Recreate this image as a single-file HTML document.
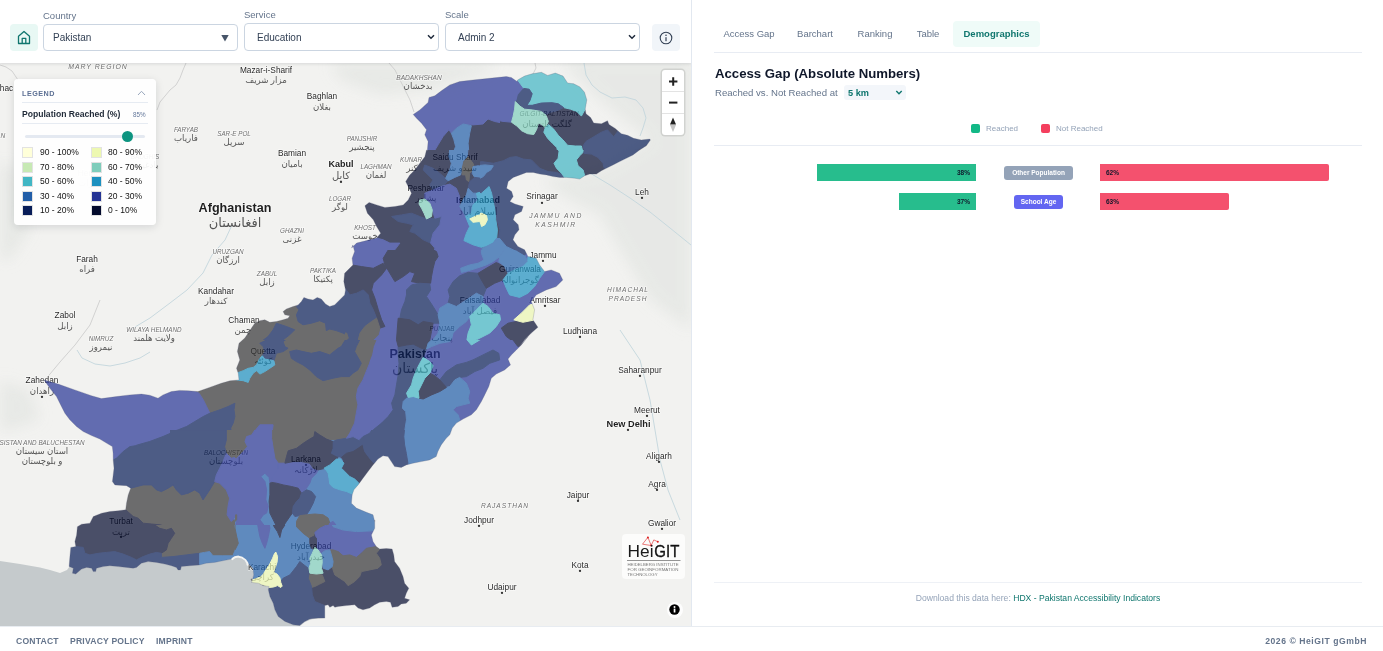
<!DOCTYPE html>
<html lang="en">
<head>
<meta charset="utf-8">
<title>Access Gap – Pakistan</title>
<style>
*{box-sizing:border-box;margin:0;padding:0}
html,body{width:1383px;height:651px;overflow:hidden;background:#fff;font-family:"Liberation Sans","DejaVu Sans",sans-serif;color:#1e293b}
.abs{position:absolute}
#left{position:absolute;left:0;top:0;width:691px;height:626px;overflow:hidden;background:#f1f1ef}
#map{position:absolute;left:0;top:63px;width:691px;height:563px;overflow:hidden;background:#f1f1ef}
#hdr{position:absolute;left:0;top:0;width:691px;height:63px;background:#fff;box-shadow:0 1px 3px rgba(15,23,42,.12);z-index:5}
.lbl{position:absolute;top:10px;font-size:9.5px;color:#64748b;line-height:11px}
.sel{position:absolute;top:24px;height:27px;border:1px solid #cbd5e1;border-radius:4px;background:#fff;font-size:10px;color:#334155;line-height:25px;padding-left:9px}
.sel svg{position:absolute;right:5px;top:8px}
.ibtn{position:absolute;top:24px;width:28px;height:27px;border-radius:4px}
#right{position:absolute;left:691px;top:0;width:692px;height:626px;background:#fff;border-left:1px solid #e2e8f0}
.tab{position:absolute;top:20px;height:26px;line-height:26px;font-size:9.5px;color:#64748b;text-align:center;border-radius:4px}
.hr{position:absolute;height:1px;background:#e8ecf3}
#footer{position:absolute;left:0;top:626px;width:1383px;height:25px;background:#fff;border-top:1px solid #e8ecf1;font-size:8.6px;font-weight:bold;color:#64748b;letter-spacing:.2px}
#footer span{position:absolute;top:9px;line-height:11px;white-space:nowrap}
.bar{position:absolute;height:17px;font-size:6.5px;font-weight:bold;line-height:17px;color:#0f172a}
.pill{position:absolute;height:14px;border-radius:3px;color:#fff;font-size:6.5px;font-weight:bold;line-height:14px;text-align:center;white-space:nowrap}
#legend{position:absolute;left:14px;top:79px;width:142px;height:146px;background:rgba(255,255,255,.93);border-radius:4px;box-shadow:0 2px 8px rgba(15,23,42,.13);z-index:4}
#legend .sw{position:absolute;width:11px;height:11px;border:1px solid #e2e2e2}
#legend .t{position:absolute;font-size:8.5px;color:#111;line-height:11px;white-space:nowrap}
.ml{font-family:"Liberation Sans","DejaVu Sans",sans-serif}
</style>
</head>
<body>
<div id="left">
<div id="map">
<svg class="abs" style="left:0;top:0" width="691" height="563" viewBox="0 0 691 563">
<rect x="0" y="0" width="691" height="563" fill="#f2f2f0"/>
<defs><filter id="bl" x="-20%" y="-20%" width="140%" height="140%"><feGaussianBlur stdDeviation="7"/></filter><filter id="bl2" x="-20%" y="-20%" width="140%" height="140%"><feGaussianBlur stdDeviation="3"/></filter></defs>
<g filter="url(#bl)" fill="#e6e8e5" opacity=".9">
<polygon points="560,-3.0 691,-3.0 691,267.0 650,237.0 620,187.0 600,152.0 570,137.0 540,117.0 600,107.0 650,77.0 600,37.0"/>
<polygon points="330,0.0 500,0.0 480,12.0 430,27.0 380,32.0 340,17.0"/>
<polygon points="0,97.0 20,107.0 30,167.0 10,197.0 0,197.0"/>
<polygon points="0,317.0 30,327.0 40,357.0 10,367.0 0,367.0"/>
</g>
<mask id="seam"><rect x="0" y="0" width="691" height="563" fill="#fff"/><path d="M413.2,51.5 L419.8,46.9 L428.1,39.4 L429.0,34.4 L434.8,32.8 L441.4,27.8 L449.8,21.9 L459.7,18.6 L473.0,17.0 L489.7,15.3 L506.3,13.6 L511.3,14.5 L517.1,18.6 L517.6,17.0 L524.6,13.1 L532.2,10.8 L541.4,9.3 L547.6,12.4 L555.3,10.1 L563.0,13.1 L567.6,20.0 L573.7,20.8 L579.9,23.9 L584.5,29.3 L586.8,36.9 L585.2,46.2 L586.0,50.8 L590.6,54.6 L593.7,60.0 L601.4,60.8 L607.5,57.7 L609.0,61.5 L615.2,65.4 L621.3,70.7 L627.5,72.3 L633.6,75.3 L641.3,76.9 L649.8,76.1 L650.4,77.0 L646.3,82.8 L639.6,87.0 L633.0,91.9 L626.3,95.3 L619.7,98.6 L613.0,101.9 L606.3,105.3 L601.4,107.7 L596.4,111.1 L589.7,111.1 L584.7,112.7 L579.7,116.1 L574.8,115.2 L566.4,114.4 L559.8,114.4 L553.1,113.6 L546.5,111.9 L539.8,111.1 L533.2,109.4 L526.5,109.4 L519.9,111.9 L513.2,114.4 L508.2,118.6 L506.6,125.2 L511.6,128.5 L513.2,133.5 L509.9,138.5 L514.9,141.0 L523.2,143.5 L521.5,148.5 L514.9,151.8 L513.2,156.8 L518.2,161.8 L519.0,166.8 L514.9,171.8 L513.0,176.8 L517.9,183.5 L524.6,186.8 L527.9,193.4 L527.9,193.6 L536.2,195.3 L539.6,201.9 L544.6,208.6 L551.2,206.9 L559.5,210.3 L562.8,216.9 L556.2,223.6 L546.2,226.9 L536.2,231.9 L531.3,238.5 L534.6,246.8 L532.9,256.8 L537.9,264.3 L531.3,270.1 L524.6,276.8 L519.6,283.4 L527.9,273.7 L521.3,282.0 L516.3,287.0 L511.3,291.9 L508.0,296.1 L510.5,301.9 L504.6,306.9 L496.3,311.1 L491.3,315.2 L488.8,323.5 L484.7,331.9 L481.4,338.5 L476.4,346.8 L471.4,351.8 L463.1,356.0 L456.4,360.1 L452.3,365.1 L449.8,371.8 L446.2,375.3 L441.2,381.9 L437.9,388.6 L436.2,393.6 L429.6,396.9 L421.3,398.6 L412.9,400.2 L406.3,401.9 L401.3,404.4 L394.6,403.6 L391.3,398.6 L388.0,393.6 L383.0,392.8 L378.0,396.1 L373.0,401.9 L368.0,408.6 L363.0,415.2 L358.1,421.9 L353.9,426.8 L352.2,431.8 L351.4,440.2 L356.4,445.1 L366.4,449.3 L373.0,451.8 L374.7,458.4 L374.7,457.0 L374.7,465.3 L371.4,472.0 L373.0,478.6 L376.3,483.6 L379.7,486.1 L386.3,485.6 L392.1,486.1 L393.8,491.9 L394.6,498.6 L399.6,505.2 L403.0,513.5 L404.6,520.2 L408.8,525.2 L406.3,530.2 L404.6,535.2 L409.6,536.8 L406.3,540.2 L401.3,541.0 L398.0,543.5 L392.1,544.3 L390.5,539.3 L386.3,538.5 L379.7,539.3 L374.7,541.8 L369.7,545.1 L363.0,546.8 L358.1,545.1 L354.7,541.8 L346.4,542.6 L338.1,543.5 L334.8,544.3 L333.1,542.6 L329.8,544.3 L328.1,541.8 L324.8,542.6 L324.8,555.1 L318.1,555.1 L309.8,556.0 L304.8,558.4 L301.5,560.9 L299.8,562.6 L293.2,561.8 L284.9,558.4 L278.2,553.5 L274.9,546.8 L273.2,540.2 L269.9,533.5 L268.3,526.8 L269.1,523.5 L263.3,522.7 L258.3,520.2 L251.6,519.4 L253.7,511.9 L252.9,505.2 L247.9,500.2 L242.9,496.1 L237.9,493.6 L232.9,494.4 L231.3,496.1 L222.9,497.7 L214.6,499.4 L206.3,500.2 L199.7,501.9 L189.7,502.7 L181.4,503.6 L180.5,506.9 L178.0,506.9 L176.4,504.4 L171.4,502.7 L164.7,501.1 L156.4,499.4 L148.1,498.6 L141.4,500.2 L136.5,504.4 L133.1,505.2 L126.5,504.4 L118.2,503.6 L109.8,502.7 L103.2,503.6 L96.5,505.2 L95.7,508.6 L93.2,508.6 L91.6,505.2 L86.6,504.4 L81.6,506.1 L75.8,511.0 L72.4,510.2 L73.3,505.2 L69.1,503.6 L69.9,493.6 L70.8,484.4 L75.8,483.6 L74.9,478.6 L76.6,472.0 L77.4,463.7 L81.6,461.2 L89.9,460.2 L93.3,453.5 L101.6,450.2 L109.9,448.5 L118.2,447.7 L125.7,446.8 L126.5,440.2 L128.2,431.9 L130.7,425.2 L126.5,422.7 L114.9,421.9 L112.4,418.6 L113.2,411.9 L114.0,405.3 L113.2,397.0 L113.1,390.1 L112.3,383.5 L106.4,380.1 L99.8,376.0 L91.5,372.6 L83.2,368.5 L76.5,363.5 L69.8,356.8 L64.9,350.2 L60.7,341.9 L56.5,333.6 L49.9,325.3 L44.1,316.9 L58.2,321.1 L74.8,326.9 L91.5,332.7 L101.4,335.6 L116.4,333.6 L129.7,331.9 L141.4,331.1 L149.7,332.2 L158.0,335.2 L163.0,331.9 L171.3,328.6 L179.6,327.4 L187.9,327.7 L197.9,328.6 L209.5,324.4 L221.2,320.3 L230.0,317.8 L239.0,316.9 L238.2,310.2 L236.5,305.3 L239.8,296.9 L237.4,288.6 L239.0,280.3 L244.8,275.1 L248.2,270.1 L251.5,265.1 L254.8,260.2 L259.8,257.7 L264.8,256.8 L269.8,259.3 L276.4,258.5 L283.1,256.8 L288.1,255.2 L289.7,252.7 L284.8,251.8 L283.1,248.5 L286.4,246.0 L293.1,243.5 L298.1,241.9 L301.4,238.5 L303.9,234.4 L308.0,236.0 L313.0,236.9 L317.2,234.4 L321.3,236.0 L325.5,241.0 L329.7,243.5 L334.6,241.9 L339.6,236.9 L344.6,231.9 L345.5,226.9 L343.8,218.6 L344.6,210.3 L349.6,205.3 L352.9,201.9 L352.1,195.3 L354.6,188.6 L352.9,182.0 L351.6,185.1 L356.6,180.1 L366.6,177.6 L376.6,175.1 L380.7,170.2 L376.6,163.5 L373.3,156.8 L367.4,150.2 L364.9,142.7 L369.1,139.4 L376.6,141.9 L384.9,144.4 L394.9,143.5 L403.2,141.9 L408.2,136.9 L411.5,130.2 L408.2,123.6 L405.7,118.6 L409.8,111.9 L414.8,107.0 L419.8,100.3 L424.8,93.7 L426.5,87.0 L427.3,87.6 L428.1,78.5 L424.8,71.8 L426.5,66.8 L421.5,60.2 L416.5,55.2Z" fill="#000"/></mask>
<polygon mask="url(#seam)" points="0,498.0 20,501.0 40,504.5 50,507.0 60,510.0 67,507.0 70,503.0 70,492.0 300,492.0 310,537.0 325,555.0 312,556.0 305,559.0 300,563.0 0,563.0" fill="#c5cacc"/>
<g fill="none" stroke="#c9c9c9" stroke-width=".8">
<polyline points="0,2.0 6,4.0 12,8.0 16,14.0 18,17.0"/>
<polyline points="186,0.0 183,7.0 180,15.0 176,22.0 170,27.0 165,33.0 160,39.0 157,47.0"/>
<polyline points="389,0.0 395,7.0 400,17.0 405,27.0 410,37.0 414,49.0"/>
<polyline points="45,317.0 60,299.0 75,282.0 90,262.0 100,237.0"/>
<polyline points="535,0.0 536,5.0 533,11.0"/>
</g>
<g fill="none" stroke="#c3d6dc" stroke-width=".9">
<polyline points="584,0.0 586,12.0 592,22.0 600,29.0 612,35.0 625,34.0 636,37.0 643,45.0 646,55.0 643,65.0 640,73.0"/>
<polyline points="590,110.0 610,122.0 630,135.0 650,149.0 670,165.0 691,182.0"/>
<polyline points="232,162.0 225,177.0 212,192.0 203,210.0 187,227.0 170,240.0 150,255.0 130,267.0"/>
<polyline points="77,287.0 82,295.0 95,301.0 110,303.0 125,300.0 140,295.0 150,289.0"/>
<polyline points="620,267.0 630,282.0 640,297.0 645,317.0 650,337.0 655,367.0 660,397.0 668,427.0 680,457.0"/>
</g>
<g font-family="Liberation Sans, DejaVu Sans, sans-serif" text-anchor="middle">
<text x="98" y="6.299999999999997" font-size="6.9" fill="#6f6f6f" font-style="italic" letter-spacing="1" stroke="#fff" stroke-width="1.6" stroke-opacity=".55" paint-order="stroke" stroke-linejoin="round">MARY REGION</text>
<text x="266" y="10" font-size="8.3" fill="#2a2a2a" stroke="#fff" stroke-width="1.6" stroke-opacity=".55" paint-order="stroke" stroke-linejoin="round">Mazar-i-Sharif</text>
<text x="322" y="36" font-size="8.3" fill="#2a2a2a" stroke="#fff" stroke-width="1.6" stroke-opacity=".55" paint-order="stroke" stroke-linejoin="round">Baghlan</text>
<text x="419" y="16.5" font-size="6.6" fill="#6f6f6f" font-style="italic" stroke="#fff" stroke-width="1.6" stroke-opacity=".55" paint-order="stroke" stroke-linejoin="round">BADAKHSHAN</text>
<text x="186" y="68.5" font-size="6.3" fill="#6f6f6f" font-style="italic" stroke="#fff" stroke-width="1.6" stroke-opacity=".55" paint-order="stroke" stroke-linejoin="round">FARYAB</text>
<text x="234" y="72.5" font-size="6.3" fill="#6f6f6f" font-style="italic" stroke="#fff" stroke-width="1.6" stroke-opacity=".55" paint-order="stroke" stroke-linejoin="round">SAR-E POL</text>
<text x="362" y="77.5" font-size="6.3" fill="#6f6f6f" font-style="italic" stroke="#fff" stroke-width="1.6" stroke-opacity=".55" paint-order="stroke" stroke-linejoin="round">PANJSHIR</text>
<text x="292" y="93" font-size="8.3" fill="#2a2a2a" stroke="#fff" stroke-width="1.6" stroke-opacity=".55" paint-order="stroke" stroke-linejoin="round">Bamian</text>
<text x="341" y="104" font-size="9" fill="#1f1f1f" font-weight="bold" stroke="#fff" stroke-width="1.6" stroke-opacity=".55" paint-order="stroke" stroke-linejoin="round">Kabul</text>
<text x="376" y="105.5" font-size="6.3" fill="#6f6f6f" font-style="italic" stroke="#fff" stroke-width="1.6" stroke-opacity=".55" paint-order="stroke" stroke-linejoin="round">LAGHMAN</text>
<text x="411" y="98.5" font-size="6.3" fill="#6f6f6f" font-style="italic" stroke="#fff" stroke-width="1.6" stroke-opacity=".55" paint-order="stroke" stroke-linejoin="round">KUNAR</text>
<text x="455" y="97" font-size="8.3" fill="#2a2a2a" stroke="#fff" stroke-width="1.6" stroke-opacity=".55" paint-order="stroke" stroke-linejoin="round">Saidu Sharif</text>
<text x="426" y="128" font-size="8.3" fill="#2a2a2a" stroke="#fff" stroke-width="1.6" stroke-opacity=".55" paint-order="stroke" stroke-linejoin="round">Peshawar</text>
<text x="478" y="140" font-size="9" fill="#1f1f1f" font-weight="bold" stroke="#fff" stroke-width="1.6" stroke-opacity=".55" paint-order="stroke" stroke-linejoin="round">Islamabad</text>
<text x="542" y="136" font-size="8.3" fill="#2a2a2a" stroke="#fff" stroke-width="1.6" stroke-opacity=".55" paint-order="stroke" stroke-linejoin="round">Srinagar</text>
<text x="642" y="132" font-size="8.3" fill="#2a2a2a" stroke="#fff" stroke-width="1.6" stroke-opacity=".55" paint-order="stroke" stroke-linejoin="round">Leh</text>
<text x="556" y="154.5" font-size="6.8" fill="#6f6f6f" font-style="italic" letter-spacing="1.5" stroke="#fff" stroke-width="1.6" stroke-opacity=".55" paint-order="stroke" stroke-linejoin="round">JAMMU AND</text>
<text x="556" y="163.5" font-size="6.8" fill="#6f6f6f" font-style="italic" letter-spacing="1.5" stroke="#fff" stroke-width="1.6" stroke-opacity=".55" paint-order="stroke" stroke-linejoin="round">KASHMIR</text>
<text x="543" y="195" font-size="8.3" fill="#2a2a2a" stroke="#fff" stroke-width="1.6" stroke-opacity=".55" paint-order="stroke" stroke-linejoin="round">Jammu</text>
<text x="520" y="209" font-size="8.3" fill="#2a2a2a" stroke="#fff" stroke-width="1.6" stroke-opacity=".55" paint-order="stroke" stroke-linejoin="round">Gujranwala</text>
<text x="480" y="240" font-size="8.3" fill="#2a2a2a" stroke="#fff" stroke-width="1.6" stroke-opacity=".55" paint-order="stroke" stroke-linejoin="round">Faisalabad</text>
<text x="545" y="240" font-size="8.3" fill="#2a2a2a" stroke="#fff" stroke-width="1.6" stroke-opacity=".55" paint-order="stroke" stroke-linejoin="round">Amritsar</text>
<text x="628" y="229" font-size="6.6" fill="#6f6f6f" font-style="italic" letter-spacing="1" stroke="#fff" stroke-width="1.6" stroke-opacity=".55" paint-order="stroke" stroke-linejoin="round">HIMACHAL</text>
<text x="628" y="238" font-size="6.6" fill="#6f6f6f" font-style="italic" letter-spacing="1" stroke="#fff" stroke-width="1.6" stroke-opacity=".55" paint-order="stroke" stroke-linejoin="round">PRADESH</text>
<text x="580" y="271" font-size="8.3" fill="#2a2a2a" stroke="#fff" stroke-width="1.6" stroke-opacity=".55" paint-order="stroke" stroke-linejoin="round">Ludhiana</text>
<text x="235" y="149" font-size="12.6" fill="#1f1f1f" font-weight="bold" stroke="#fff" stroke-width="1.6" stroke-opacity=".55" paint-order="stroke" stroke-linejoin="round">Afghanistan</text>
<text x="340" y="137.5" font-size="6.3" fill="#6f6f6f" font-style="italic" stroke="#fff" stroke-width="1.6" stroke-opacity=".55" paint-order="stroke" stroke-linejoin="round">LOGAR</text>
<text x="292" y="169.5" font-size="6.3" fill="#6f6f6f" font-style="italic" stroke="#fff" stroke-width="1.6" stroke-opacity=".55" paint-order="stroke" stroke-linejoin="round">GHAZNI</text>
<text x="365" y="166.5" font-size="6.3" fill="#6f6f6f" font-style="italic" stroke="#fff" stroke-width="1.6" stroke-opacity=".55" paint-order="stroke" stroke-linejoin="round">KHOST</text>
<text x="228" y="190.5" font-size="6.3" fill="#6f6f6f" font-style="italic" stroke="#fff" stroke-width="1.6" stroke-opacity=".55" paint-order="stroke" stroke-linejoin="round">URUZGAN</text>
<text x="267" y="212.5" font-size="6.3" fill="#6f6f6f" font-style="italic" stroke="#fff" stroke-width="1.6" stroke-opacity=".55" paint-order="stroke" stroke-linejoin="round">ZABUL</text>
<text x="323" y="209.5" font-size="6.3" fill="#6f6f6f" font-style="italic" stroke="#fff" stroke-width="1.6" stroke-opacity=".55" paint-order="stroke" stroke-linejoin="round">PAKTIKA</text>
<text x="216" y="231" font-size="8.3" fill="#2a2a2a" stroke="#fff" stroke-width="1.6" stroke-opacity=".55" paint-order="stroke" stroke-linejoin="round">Kandahar</text>
<text x="87" y="199" font-size="8.3" fill="#2a2a2a" stroke="#fff" stroke-width="1.6" stroke-opacity=".55" paint-order="stroke" stroke-linejoin="round">Farah</text>
<text x="65" y="255" font-size="8.3" fill="#2a2a2a" stroke="#fff" stroke-width="1.6" stroke-opacity=".55" paint-order="stroke" stroke-linejoin="round">Zabol</text>
<text x="101" y="277.5" font-size="6.3" fill="#6f6f6f" font-style="italic" stroke="#fff" stroke-width="1.6" stroke-opacity=".55" paint-order="stroke" stroke-linejoin="round">NIMRUZ</text>
<text x="154" y="268.5" font-size="6.3" fill="#6f6f6f" font-style="italic" stroke="#fff" stroke-width="1.6" stroke-opacity=".55" paint-order="stroke" stroke-linejoin="round">WILAYA HELMAND</text>
<text x="244" y="260" font-size="8.3" fill="#2a2a2a" stroke="#fff" stroke-width="1.6" stroke-opacity=".55" paint-order="stroke" stroke-linejoin="round">Chaman</text>
<text x="263" y="291" font-size="8.3" fill="#2a2a2a" stroke="#fff" stroke-width="1.6" stroke-opacity=".55" paint-order="stroke" stroke-linejoin="round">Quetta</text>
<text x="415" y="295" font-size="12.4" fill="#1f1f1f" font-weight="bold" stroke="#fff" stroke-width="1.6" stroke-opacity=".55" paint-order="stroke" stroke-linejoin="round">Pakistan</text>
<text x="42" y="320" font-size="8.3" fill="#2a2a2a" stroke="#fff" stroke-width="1.6" stroke-opacity=".55" paint-order="stroke" stroke-linejoin="round">Zahedan</text>
<text x="42" y="381.5" font-size="6.3" fill="#6f6f6f" font-style="italic" stroke="#fff" stroke-width="1.6" stroke-opacity=".55" paint-order="stroke" stroke-linejoin="round">SISTAN AND BALUCHESTAN</text>
<text x="226" y="391.5" font-size="6.3" fill="#555" font-style="italic" stroke="#fff" stroke-width="1.6" stroke-opacity=".55" paint-order="stroke" stroke-linejoin="round">BALOCHISTAN</text>
<text x="306" y="399" font-size="8.3" fill="#2a2a2a" stroke="#fff" stroke-width="1.6" stroke-opacity=".55" paint-order="stroke" stroke-linejoin="round">Larkana</text>
<text x="121" y="461" font-size="8.3" fill="#2a2a2a" stroke="#fff" stroke-width="1.6" stroke-opacity=".55" paint-order="stroke" stroke-linejoin="round">Turbat</text>
<text x="311" y="486" font-size="8.3" fill="#2a2a2a" stroke="#fff" stroke-width="1.6" stroke-opacity=".55" paint-order="stroke" stroke-linejoin="round">Hyderabad</text>
<text x="262" y="507" font-size="8.3" fill="#2a2a2a" stroke="#fff" stroke-width="1.6" stroke-opacity=".55" paint-order="stroke" stroke-linejoin="round">Karachi</text>
<text x="640" y="310" font-size="8.3" fill="#2a2a2a" stroke="#fff" stroke-width="1.6" stroke-opacity=".55" paint-order="stroke" stroke-linejoin="round">Saharanpur</text>
<text x="647" y="350" font-size="8.3" fill="#2a2a2a" stroke="#fff" stroke-width="1.6" stroke-opacity=".55" paint-order="stroke" stroke-linejoin="round">Meerut</text>
<text x="628.5" y="364" font-size="9.2" fill="#1f1f1f" font-weight="bold" stroke="#fff" stroke-width="1.6" stroke-opacity=".55" paint-order="stroke" stroke-linejoin="round">New Delhi</text>
<text x="659" y="396" font-size="8.3" fill="#2a2a2a" stroke="#fff" stroke-width="1.6" stroke-opacity=".55" paint-order="stroke" stroke-linejoin="round">Aligarh</text>
<text x="657" y="424" font-size="8.3" fill="#2a2a2a" stroke="#fff" stroke-width="1.6" stroke-opacity=".55" paint-order="stroke" stroke-linejoin="round">Agra</text>
<text x="578" y="435" font-size="8.3" fill="#2a2a2a" stroke="#fff" stroke-width="1.6" stroke-opacity=".55" paint-order="stroke" stroke-linejoin="round">Jaipur</text>
<text x="505" y="444.5" font-size="6.6" fill="#6f6f6f" font-style="italic" letter-spacing="1" stroke="#fff" stroke-width="1.6" stroke-opacity=".55" paint-order="stroke" stroke-linejoin="round">RAJASTHAN</text>
<text x="479" y="460" font-size="8.3" fill="#2a2a2a" stroke="#fff" stroke-width="1.6" stroke-opacity=".55" paint-order="stroke" stroke-linejoin="round">Jodhpur</text>
<text x="662" y="463" font-size="8.3" fill="#2a2a2a" stroke="#fff" stroke-width="1.6" stroke-opacity=".55" paint-order="stroke" stroke-linejoin="round">Gwalior</text>
<text x="580" y="505" font-size="8.3" fill="#2a2a2a" stroke="#fff" stroke-width="1.6" stroke-opacity=".55" paint-order="stroke" stroke-linejoin="round">Kota</text>
<text x="502" y="527" font-size="8.3" fill="#2a2a2a" stroke="#fff" stroke-width="1.6" stroke-opacity=".55" paint-order="stroke" stroke-linejoin="round">Udaipur</text>
<text x="549" y="53.3" font-size="6.7" fill="#555" font-style="italic" stroke="#fff" stroke-width="1.6" stroke-opacity=".55" paint-order="stroke" stroke-linejoin="round">GILGIT-BALTISTAN</text>
<text x="442" y="268" font-size="6.3" fill="#555" font-style="italic" stroke="#fff" stroke-width="1.6" stroke-opacity=".55" paint-order="stroke" stroke-linejoin="round">PUNJAB</text>
<text x="88" y="113" font-size="8.3" fill="#2a2a2a" opacity=".25" stroke="#fff" stroke-width="1.6" stroke-opacity=".55" paint-order="stroke" stroke-linejoin="round">Herat</text>
<text x="6.5" y="28" font-size="8.3" fill="#2a2a2a" stroke="#fff" stroke-width="1.6" stroke-opacity=".55" paint-order="stroke" stroke-linejoin="round">hac</text>
<text x="3" y="74.5" font-size="6.6" fill="#6f6f6f" font-style="italic" stroke="#fff" stroke-width="1.6" stroke-opacity=".55" paint-order="stroke" stroke-linejoin="round">N</text>
<text x="145" y="96" font-size="6.3" fill="#6f6f6f" font-style="italic" stroke="#fff" stroke-width="1.6" stroke-opacity=".55" paint-order="stroke" stroke-linejoin="round">BADGHIS</text>
<text x="266" y="20" font-size="8.6" fill="#555" direction="rtl" unicode-bidi="embed">مزار شریف</text>
<text x="322" y="47" font-size="8.6" fill="#555" direction="rtl" unicode-bidi="embed">بغلان</text>
<text x="418" y="26" font-size="8.6" fill="#555" direction="rtl" unicode-bidi="embed">بدخشان</text>
<text x="186" y="78" font-size="8.6" fill="#555" direction="rtl" unicode-bidi="embed">فاریاب</text>
<text x="234" y="82" font-size="8.6" fill="#555" direction="rtl" unicode-bidi="embed">سرپل</text>
<text x="362" y="87" font-size="8.6" fill="#555" direction="rtl" unicode-bidi="embed">پنجشیر</text>
<text x="292" y="104" font-size="8.6" fill="#555" direction="rtl" unicode-bidi="embed">بامیان</text>
<text x="341" y="116" font-size="10" fill="#555" direction="rtl" unicode-bidi="embed">کابل</text>
<text x="376" y="115" font-size="8.6" fill="#555" direction="rtl" unicode-bidi="embed">لغمان</text>
<text x="412" y="108" font-size="8.6" fill="#555" direction="rtl" unicode-bidi="embed">کنر</text>
<text x="455" y="108" font-size="8.6" fill="#555" direction="rtl" unicode-bidi="embed">سیدو شریف</text>
<text x="426" y="138" font-size="8.6" fill="#555" direction="rtl" unicode-bidi="embed">پشاور</text>
<text x="478" y="152" font-size="10" fill="#555" direction="rtl" unicode-bidi="embed">اسلام آباد</text>
<text x="520" y="220" font-size="8.6" fill="#555" direction="rtl" unicode-bidi="embed">گوجرانوالہ</text>
<text x="480" y="251" font-size="8.6" fill="#555" direction="rtl" unicode-bidi="embed">فیصل آباد</text>
<text x="235" y="164" font-size="13" fill="#555" direction="rtl" unicode-bidi="embed">افغانستان</text>
<text x="340" y="147" font-size="8.6" fill="#555" direction="rtl" unicode-bidi="embed">لوگر</text>
<text x="292" y="179" font-size="8.6" fill="#555" direction="rtl" unicode-bidi="embed">غزنی</text>
<text x="365" y="176" font-size="8.6" fill="#555" direction="rtl" unicode-bidi="embed">خوست</text>
<text x="228" y="200" font-size="8.6" fill="#555" direction="rtl" unicode-bidi="embed">ارزگان</text>
<text x="267" y="222" font-size="8.6" fill="#555" direction="rtl" unicode-bidi="embed">زابل</text>
<text x="323" y="219" font-size="8.6" fill="#555" direction="rtl" unicode-bidi="embed">پکتیکا</text>
<text x="216" y="241" font-size="8.6" fill="#555" direction="rtl" unicode-bidi="embed">کندهار</text>
<text x="87" y="209" font-size="8.6" fill="#555" direction="rtl" unicode-bidi="embed">فراه</text>
<text x="65" y="266" font-size="8.6" fill="#555" direction="rtl" unicode-bidi="embed">زابل</text>
<text x="101" y="287" font-size="8.6" fill="#555" direction="rtl" unicode-bidi="embed">نیمروز</text>
<text x="154" y="278" font-size="8.6" fill="#555" direction="rtl" unicode-bidi="embed">ولایت هلمند</text>
<text x="243" y="270" font-size="8.6" fill="#555" direction="rtl" unicode-bidi="embed">چمن</text>
<text x="263" y="301" font-size="8.6" fill="#555" direction="rtl" unicode-bidi="embed">کوئٹہ</text>
<text x="415" y="310" font-size="14" fill="#555" direction="rtl" unicode-bidi="embed">پاکستان</text>
<text x="42" y="331" font-size="8.6" fill="#555" direction="rtl" unicode-bidi="embed">زاهدان</text>
<text x="42" y="391" font-size="8.6" fill="#555" direction="rtl" unicode-bidi="embed">استان سیستان</text>
<text x="42" y="401" font-size="8.6" fill="#555" direction="rtl" unicode-bidi="embed">و بلوچستان</text>
<text x="226" y="401" font-size="8.6" fill="#555" direction="rtl" unicode-bidi="embed">بلوچستان</text>
<text x="306" y="410" font-size="8.6" fill="#555" direction="rtl" unicode-bidi="embed">لاڑکانہ</text>
<text x="121" y="472" font-size="8.6" fill="#555" direction="rtl" unicode-bidi="embed">تربت</text>
<text x="311" y="497" font-size="8.6" fill="#555" direction="rtl" unicode-bidi="embed">حیدرآباد</text>
<text x="262" y="517" font-size="8.6" fill="#555" direction="rtl" unicode-bidi="embed">کراچی</text>
<text x="547" y="64" font-size="8.6" fill="#555" direction="rtl" unicode-bidi="embed">گلگت بلتستان</text>
<text x="442" y="278" font-size="8.6" fill="#555" direction="rtl" unicode-bidi="embed">پنجاب</text>
<text x="88" y="123" font-size="8.6" fill="#555" opacity=".25" direction="rtl" unicode-bidi="embed">هرات</text>
<text x="145" y="105" font-size="8.6" fill="#555" direction="rtl" unicode-bidi="embed">بادغیس</text>
<circle cx="341" cy="118.9" r="1.15" fill="#333"/>
<circle cx="542" cy="139.9" r="1.15" fill="#333"/>
<circle cx="642" cy="134.9" r="1.15" fill="#333"/>
<circle cx="543" cy="197.9" r="1.15" fill="#333"/>
<circle cx="545" cy="242.9" r="1.15" fill="#333"/>
<circle cx="580" cy="273.9" r="1.15" fill="#333"/>
<circle cx="42" cy="333.9" r="1.15" fill="#333"/>
<circle cx="306" cy="401.9" r="1.15" fill="#333"/>
<circle cx="121" cy="473.9" r="1.15" fill="#333"/>
<circle cx="640" cy="312.9" r="1.15" fill="#333"/>
<circle cx="647" cy="352.9" r="1.15" fill="#333"/>
<circle cx="628" cy="366.9" r="1.15" fill="#333"/>
<circle cx="659" cy="398.9" r="1.15" fill="#333"/>
<circle cx="657" cy="426.9" r="1.15" fill="#333"/>
<circle cx="578" cy="437.9" r="1.15" fill="#333"/>
<circle cx="479" cy="462.9" r="1.15" fill="#333"/>
<circle cx="662" cy="465.9" r="1.15" fill="#333"/>
<circle cx="580" cy="507.9" r="1.15" fill="#333"/>
<circle cx="502" cy="529.9" r="1.15" fill="#333"/>
</g>
<defs><clipPath id="pk"><path d="M413.2,51.5 L419.8,46.9 L428.1,39.4 L429.0,34.4 L434.8,32.8 L441.4,27.8 L449.8,21.9 L459.7,18.6 L473.0,17.0 L489.7,15.3 L506.3,13.6 L511.3,14.5 L517.1,18.6 L517.6,17.0 L524.6,13.1 L532.2,10.8 L541.4,9.3 L547.6,12.4 L555.3,10.1 L563.0,13.1 L567.6,20.0 L573.7,20.8 L579.9,23.9 L584.5,29.3 L586.8,36.9 L585.2,46.2 L586.0,50.8 L590.6,54.6 L593.7,60.0 L601.4,60.8 L607.5,57.7 L609.0,61.5 L615.2,65.4 L621.3,70.7 L627.5,72.3 L633.6,75.3 L641.3,76.9 L649.8,76.1 L650.4,77.0 L646.3,82.8 L639.6,87.0 L633.0,91.9 L626.3,95.3 L619.7,98.6 L613.0,101.9 L606.3,105.3 L601.4,107.7 L596.4,111.1 L589.7,111.1 L584.7,112.7 L579.7,116.1 L574.8,115.2 L566.4,114.4 L559.8,114.4 L553.1,113.6 L546.5,111.9 L539.8,111.1 L533.2,109.4 L526.5,109.4 L519.9,111.9 L513.2,114.4 L508.2,118.6 L506.6,125.2 L511.6,128.5 L513.2,133.5 L509.9,138.5 L514.9,141.0 L523.2,143.5 L521.5,148.5 L514.9,151.8 L513.2,156.8 L518.2,161.8 L519.0,166.8 L514.9,171.8 L513.0,176.8 L517.9,183.5 L524.6,186.8 L527.9,193.4 L527.9,193.6 L536.2,195.3 L539.6,201.9 L544.6,208.6 L551.2,206.9 L559.5,210.3 L562.8,216.9 L556.2,223.6 L546.2,226.9 L536.2,231.9 L531.3,238.5 L534.6,246.8 L532.9,256.8 L537.9,264.3 L531.3,270.1 L524.6,276.8 L519.6,283.4 L527.9,273.7 L521.3,282.0 L516.3,287.0 L511.3,291.9 L508.0,296.1 L510.5,301.9 L504.6,306.9 L496.3,311.1 L491.3,315.2 L488.8,323.5 L484.7,331.9 L481.4,338.5 L476.4,346.8 L471.4,351.8 L463.1,356.0 L456.4,360.1 L452.3,365.1 L449.8,371.8 L446.2,375.3 L441.2,381.9 L437.9,388.6 L436.2,393.6 L429.6,396.9 L421.3,398.6 L412.9,400.2 L406.3,401.9 L401.3,404.4 L394.6,403.6 L391.3,398.6 L388.0,393.6 L383.0,392.8 L378.0,396.1 L373.0,401.9 L368.0,408.6 L363.0,415.2 L358.1,421.9 L353.9,426.8 L352.2,431.8 L351.4,440.2 L356.4,445.1 L366.4,449.3 L373.0,451.8 L374.7,458.4 L374.7,457.0 L374.7,465.3 L371.4,472.0 L373.0,478.6 L376.3,483.6 L379.7,486.1 L386.3,485.6 L392.1,486.1 L393.8,491.9 L394.6,498.6 L399.6,505.2 L403.0,513.5 L404.6,520.2 L408.8,525.2 L406.3,530.2 L404.6,535.2 L409.6,536.8 L406.3,540.2 L401.3,541.0 L398.0,543.5 L392.1,544.3 L390.5,539.3 L386.3,538.5 L379.7,539.3 L374.7,541.8 L369.7,545.1 L363.0,546.8 L358.1,545.1 L354.7,541.8 L346.4,542.6 L338.1,543.5 L334.8,544.3 L333.1,542.6 L329.8,544.3 L328.1,541.8 L324.8,542.6 L324.8,555.1 L318.1,555.1 L309.8,556.0 L304.8,558.4 L301.5,560.9 L299.8,562.6 L293.2,561.8 L284.9,558.4 L278.2,553.5 L274.9,546.8 L273.2,540.2 L269.9,533.5 L268.3,526.8 L269.1,523.5 L263.3,522.7 L258.3,520.2 L251.6,519.4 L253.7,511.9 L252.9,505.2 L247.9,500.2 L242.9,496.1 L237.9,493.6 L232.9,494.4 L231.3,496.1 L222.9,497.7 L214.6,499.4 L206.3,500.2 L199.7,501.9 L189.7,502.7 L181.4,503.6 L180.5,506.9 L178.0,506.9 L176.4,504.4 L171.4,502.7 L164.7,501.1 L156.4,499.4 L148.1,498.6 L141.4,500.2 L136.5,504.4 L133.1,505.2 L126.5,504.4 L118.2,503.6 L109.8,502.7 L103.2,503.6 L96.5,505.2 L95.7,508.6 L93.2,508.6 L91.6,505.2 L86.6,504.4 L81.6,506.1 L75.8,511.0 L72.4,510.2 L73.3,505.2 L69.1,503.6 L69.9,493.6 L70.8,484.4 L75.8,483.6 L74.9,478.6 L76.6,472.0 L77.4,463.7 L81.6,461.2 L89.9,460.2 L93.3,453.5 L101.6,450.2 L109.9,448.5 L118.2,447.7 L125.7,446.8 L126.5,440.2 L128.2,431.9 L130.7,425.2 L126.5,422.7 L114.9,421.9 L112.4,418.6 L113.2,411.9 L114.0,405.3 L113.2,397.0 L113.1,390.1 L112.3,383.5 L106.4,380.1 L99.8,376.0 L91.5,372.6 L83.2,368.5 L76.5,363.5 L69.8,356.8 L64.9,350.2 L60.7,341.9 L56.5,333.6 L49.9,325.3 L44.1,316.9 L58.2,321.1 L74.8,326.9 L91.5,332.7 L101.4,335.6 L116.4,333.6 L129.7,331.9 L141.4,331.1 L149.7,332.2 L158.0,335.2 L163.0,331.9 L171.3,328.6 L179.6,327.4 L187.9,327.7 L197.9,328.6 L209.5,324.4 L221.2,320.3 L230.0,317.8 L239.0,316.9 L238.2,310.2 L236.5,305.3 L239.8,296.9 L237.4,288.6 L239.0,280.3 L244.8,275.1 L248.2,270.1 L251.5,265.1 L254.8,260.2 L259.8,257.7 L264.8,256.8 L269.8,259.3 L276.4,258.5 L283.1,256.8 L288.1,255.2 L289.7,252.7 L284.8,251.8 L283.1,248.5 L286.4,246.0 L293.1,243.5 L298.1,241.9 L301.4,238.5 L303.9,234.4 L308.0,236.0 L313.0,236.9 L317.2,234.4 L321.3,236.0 L325.5,241.0 L329.7,243.5 L334.6,241.9 L339.6,236.9 L344.6,231.9 L345.5,226.9 L343.8,218.6 L344.6,210.3 L349.6,205.3 L352.9,201.9 L352.1,195.3 L354.6,188.6 L352.9,182.0 L351.6,185.1 L356.6,180.1 L366.6,177.6 L376.6,175.1 L380.7,170.2 L376.6,163.5 L373.3,156.8 L367.4,150.2 L364.9,142.7 L369.1,139.4 L376.6,141.9 L384.9,144.4 L394.9,143.5 L403.2,141.9 L408.2,136.9 L411.5,130.2 L408.2,123.6 L405.7,118.6 L409.8,111.9 L414.8,107.0 L419.8,100.3 L424.8,93.7 L426.5,87.0 L427.3,87.6 L428.1,78.5 L424.8,71.8 L426.5,66.8 L421.5,60.2 L416.5,55.2Z"/></clipPath>
<clipPath id="cT1"><rect x="340" y="-3" width="160" height="90"/></clipPath>
<clipPath id="cT2"><rect x="500" y="-3" width="192" height="90"/></clipPath>
<clipPath id="cT13"><rect x="480" y="87" width="212" height="88"/></clipPath>
<clipPath id="cT3"><rect x="340" y="87" width="140" height="100"/><rect x="480" y="175" width="90" height="12"/></clipPath>
<clipPath id="cT4"><rect x="345" y="187" width="225" height="90"/></clipPath>
<clipPath id="cT6"><rect x="170" y="177" width="175" height="100"/></clipPath>
<clipPath id="cT5"><rect x="370" y="277" width="200" height="90"/></clipPath>
<clipPath id="cT7"><rect x="170" y="277" width="200" height="90"/></clipPath>
<clipPath id="cT8"><rect x="0" y="287" width="170" height="95"/></clipPath>
<clipPath id="cT9"><rect x="60" y="382" width="175" height="80"/><rect x="170" y="367" width="65" height="15"/></clipPath>
<clipPath id="cT10"><rect x="235" y="367" width="225" height="95"/></clipPath>
<clipPath id="cT11"><rect x="235" y="462" width="225" height="103"/></clipPath>
<clipPath id="cT12"><rect x="40" y="462" width="195" height="103"/></clipPath>
</defs>
<g clip-path="url(#pk)" opacity="0.7">
<rect x="0" y="0" width="691" height="563" fill="#040a2e"/>
<g clip-path="url(#cT1)">
<rect x="340" y="-3" width="160" height="90" fill="#040a2e"/>
<polygon points="413.2,51.5 419.8,46.9 428.1,39.4 429.0,34.4 434.8,32.8 441.4,27.8 449.8,21.9 459.7,18.6 473.0,17.0 489.7,15.3 506.3,13.6 511.3,14.5 517.1,18.6 523.8,26.9 517.9,31.9 516.3,36.9 516.3,46.9 513.0,55.2 511.3,59.4 503.0,60.2 494.7,58.5 488.0,56.0 483.0,61.0 473.0,61.9 463.1,61.0 456.4,65.2 451.4,70.2 448.9,66.8 443.1,73.5 438.1,81.8 433.1,90.1 427.3,87.6 423.2,87.6 406.5,51.9" fill="#253494" stroke="#253494" stroke-width="1"/>
<polygon points="451.4,70.2 456.4,65.2 463.1,61.0 471.4,62.7 469.7,70.2 468.1,80.2 468.9,90.1 468.1,96.8 463.1,100.1 462.2,106.8 448.1,106.8 450.6,96.8 453.1,90.1 455.6,83.5 453.9,76.8" fill="#225ea8" stroke="#225ea8" stroke-width="1"/>
</g>
<g clip-path="url(#cT2)">
<rect x="500" y="-3" width="192" height="90" fill="#040a2e"/>
<polygon points="480.0,6.2 495.4,6.2 507.7,6.2 517.6,17.0 523.8,25.4 518.4,31.6 516.9,37.7 515.3,38.5 514.6,46.2 513.0,53.8 511.5,59.2 503.0,58.4 495.4,56.9 487.7,55.4 480.0,56.9" fill="#253494" stroke="#253494" stroke-width="1"/>
<polygon points="517.6,17.0 524.6,13.1 532.2,10.8 541.4,9.3 547.6,12.4 555.3,10.1 563.0,13.1 567.6,20.0 573.7,20.8 579.9,23.9 584.5,29.3 586.8,36.9 585.2,46.2 581.4,53.1 576.8,48.5 570.6,46.2 563.7,44.6 558.3,40.8 552.2,39.7 541.4,40.0 532.2,42.3 526.9,42.3 529.9,37.7 532.2,30.8 529.2,26.2 523.8,25.4" fill="#41b6c4" stroke="#41b6c4" stroke-width="1"/>
<polygon points="523.8,25.4 529.2,26.2 532.2,30.8 529.9,37.7 526.9,42.3 532.2,42.3 541.4,40.0 552.2,39.7 558.3,40.8 563.7,44.6 556.8,47.7 550.7,49.2 546.1,51.5 541.4,48.5 532.2,46.9 524.6,46.2 519.9,43.1 515.3,38.5 516.9,37.7 518.4,31.6" fill="#081d58" stroke="#081d58" stroke-width="1"/>
<polygon points="515.3,38.5 519.9,43.1 524.6,46.2 532.2,46.9 541.4,48.5 546.1,52.3 548.4,58.4 545.3,64.6 541.4,61.5 538.4,60.0 536.8,66.1 533.8,71.5 527.6,70.7 521.5,67.7 516.9,63.1 511.5,59.2 513.0,53.8 514.6,46.2" fill="#7fcdbb" stroke="#7fcdbb" stroke-width="1"/>
<polygon points="545.3,64.6 548.4,61.5 553.7,66.1 558.3,72.3 563.0,76.9 567.6,82.3 575.2,83.0 581.4,83.0 582.9,89.2 578.3,91.5 579.9,98.4 557.6,98.4 558.3,90.7 556.8,84.6 552.2,80.0 547.6,75.3 543.8,69.2" fill="#41b6c4" stroke="#41b6c4" stroke-width="1"/>
<polygon points="586.0,78.4 593.7,73.8 601.4,69.2 607.5,66.9 613.7,73.8 618.3,67.7 627.5,70.7 633.6,73.8 641.3,75.3 652.1,73.8 648.2,80.7 642.8,84.6 635.2,87.6 629.0,91.5 622.9,95.3 618.3,98.4 596.8,98.4 587.5,92.2 584.5,87.6 582.9,83.0" fill="#081d58" stroke="#081d58" stroke-width="1"/>
</g>
<g clip-path="url(#cT13)">
<rect x="480" y="87" width="212" height="88" fill="#040a2e"/>
<polygon points="475.0,100.3 481.6,98.6 493.3,100.3 503.2,97.8 509.9,94.4 516.5,93.6 523.2,96.1 531.5,96.9 534.8,100.3 539.8,105.3 548.1,108.6 556.5,109.4 561.4,111.1 569.8,116.9 509.9,116.9 506.6,125.2 526.5,133.5 526.5,176.8 498.3,176.8 499.9,166.8 497.4,158.5 495.8,150.2 494.9,141.8 493.3,133.5 491.6,130.2 489.1,123.5 481.6,130.2 476.6,131.9 473.3,130.2 466.7,125.2 468.3,118.6 470.0,111.9 472.5,106.9 475.0,101.9" fill="#081d58" stroke="#081d58" stroke-width="1"/>
<polygon points="472.5,106.9 476.6,102.8 484.9,101.9 493.3,102.8 490.8,106.9 486.6,109.4 483.3,113.6 478.3,116.1 475.0,113.6" fill="#225ea8" stroke="#225ea8" stroke-width="1"/>
<polygon points="460.0,95.3 468.3,96.9 475.0,101.9 472.5,106.9 470.0,111.9 468.3,118.6 465.0,115.2 460.0,113.6" fill="#343436" stroke="#343436" stroke-width="1"/>
<polygon points="460.0,67.0 470.0,67.0 468.3,75.3 466.7,83.6 465.0,91.9 460.0,95.3" fill="#225ea8" stroke="#225ea8" stroke-width="1"/>
<polygon points="460.0,141.8 463.3,145.2 468.3,148.5 466.7,153.5 470.0,160.1 466.7,166.8 465.0,176.8 460.0,176.8" fill="#253494" stroke="#253494" stroke-width="1"/>
<polygon points="466.7,125.2 473.3,130.2 476.6,131.9 478.3,136.8 475.8,140.2 473.3,145.2 468.3,148.5 463.3,145.2 460.0,141.8 460.0,133.5 463.3,128.5" fill="#225ea8" stroke="#225ea8" stroke-width="1"/>
<polygon points="476.6,131.9 481.6,130.2 489.1,123.5 491.6,130.2 493.3,138.5 494.9,146.8 495.8,156.8 497.4,166.8 496.6,176.8 465.0,176.8 466.7,166.8 470.0,160.1 466.7,153.5 468.3,148.5 473.3,145.2 475.8,140.2 478.3,136.8" fill="#1d91c0" stroke="#1d91c0" stroke-width="1"/>
<polygon points="470.0,155.1 475.0,151.8 481.6,150.2 486.6,152.6 487.4,156.8 484.9,161.8 481.6,163.5 480.0,158.5 475.0,159.3 471.6,158.5" fill="#edf8b1" stroke="#edf8b1" stroke-width="1"/>
<polygon points="544.8,67.0 554.8,67.0 558.1,72.0 563.1,77.0 568.1,81.1 574.8,83.6 579.7,82.0 583.9,88.6 579.7,92.8 576.4,96.9 578.1,102.8 583.1,106.9 584.7,112.7 579.7,118.6 574.8,118.6 566.4,116.9 561.4,110.2 556.5,105.3 554.0,100.3 558.1,95.3 559.0,88.6 556.5,82.0 553.1,75.3 548.1,70.3" fill="#41b6c4" stroke="#41b6c4" stroke-width="1"/>
<polygon points="583.9,88.6 586.4,82.0 593.0,77.0 601.4,72.0 606.3,68.7 613.0,72.0 616.3,75.3 619.7,70.3 626.3,72.0 634.6,75.3 642.9,76.1 652.9,75.3 646.3,85.3 639.6,88.6 633.0,93.6 626.3,96.9 619.7,100.3 613.0,103.6 606.3,106.9 603.9,104.4 603.0,100.3 598.0,94.4 591.4,91.1 583.9,90.3" fill="#081d58" stroke="#081d58" stroke-width="1"/>
</g>
<g clip-path="url(#cT3)">
<rect x="340" y="87" width="140" height="100" fill="#040a2e"/><rect x="480" y="175" width="90" height="12" fill="#040a2e"/>
<polygon points="346.7,185.1 356.6,180.1 366.6,177.6 376.6,175.1 383.2,176.8 389.9,180.1 399.9,180.1 394.9,186.8 388.2,191.8 384.9,196.8 346.7,196.8" fill="#253494" stroke="#253494" stroke-width="1"/>
<polygon points="391.6,153.5 401.5,151.9 411.5,150.2 419.8,153.5 426.5,156.0 434.8,155.2 441.4,153.5 439.8,161.8 433.1,170.2 430.6,180.1 423.2,176.8 414.8,170.2 409.8,168.5 413.2,161.8 406.5,160.2 398.2,158.5" fill="#081d58" stroke="#081d58" stroke-width="1"/>
<polygon points="424.8,102.0 433.1,105.3 439.8,110.3 446.4,116.1 448.1,117.8 443.1,122.8 433.1,126.9 429.8,121.9 433.1,116.9 428.1,111.9 423.2,107.0" fill="#081d58" stroke="#081d58" stroke-width="1"/>
<polygon points="424.8,130.2 433.1,126.9 443.1,122.8 449.8,121.1 456.4,125.3 459.7,133.6 459.7,143.5 463.1,148.5 465.6,153.5 469.7,163.5 466.4,170.2 463.9,177.6 473.0,181.8 481.4,184.3 482.2,196.8 433.1,196.8 434.8,185.1 430.6,180.1 433.1,170.2 439.8,161.8 441.4,153.5 434.8,155.2 432.3,146.9 429.8,140.2 424.8,136.1" fill="#253494" stroke="#253494" stroke-width="1"/>
<polygon points="449.8,85.3 468.1,85.3 467.2,93.7 463.1,98.6 462.2,105.3 460.6,111.9 454.8,114.4 448.1,117.8 445.6,115.3 449.8,107.0 451.4,100.3 448.9,93.7" fill="#225ea8" stroke="#225ea8" stroke-width="1"/>
<polygon points="463.9,98.6 468.1,93.7 473.0,100.3 474.7,105.3 469.7,110.3 468.9,118.6 466.4,116.9 465.6,111.9 462.2,111.9 462.2,105.3" fill="#343436" stroke="#343436" stroke-width="1"/>
<polygon points="473.0,103.6 478.0,102.8 486.3,103.6 493.0,102.8 489.7,108.6 484.7,111.9 481.4,115.3 474.7,114.4 472.2,110.3" fill="#225ea8" stroke="#225ea8" stroke-width="1"/>
<polygon points="494.7,102.0 506.3,98.6 516.3,95.3 527.9,93.7 534.6,97.0 539.6,103.6 556.2,110.3 570.0,114.4 570.0,196.8 506.3,196.8 506.3,183.5 498.0,173.5 497.2,163.5 496.3,153.5 494.7,141.9 492.2,133.6 490.5,123.6 483.0,128.6 476.4,130.2 473.0,130.2 468.1,125.3 469.7,118.6 474.7,114.4 481.4,115.3 484.7,111.9 489.7,108.6 493.0,102.8" fill="#081d58" stroke="#081d58" stroke-width="1"/>
<polygon points="468.1,125.3 473.0,130.2 476.4,130.2 478.0,136.9 473.0,141.9 471.4,150.2 465.6,153.5 463.1,148.5 459.7,143.5 463.1,136.9 466.4,131.9" fill="#225ea8" stroke="#225ea8" stroke-width="1"/>
<polygon points="476.4,130.2 483.0,128.6 490.5,123.6 492.2,133.6 494.7,141.9 496.3,153.5 497.2,163.5 498.0,173.5 493.0,180.1 486.3,183.5 481.4,184.3 473.0,181.8 463.9,177.6 466.4,170.2 469.7,163.5 465.6,153.5 471.4,150.2 473.0,141.9 478.0,136.9" fill="#1d91c0" stroke="#1d91c0" stroke-width="1"/>
<polygon points="482.2,185.1 486.3,183.5 493.0,180.1 498.0,173.5 506.3,183.5 513.0,186.8 519.6,190.1 527.9,193.4 527.9,196.8 481.4,196.8" fill="#225ea8" stroke="#225ea8" stroke-width="1"/>
<polygon points="419.8,136.9 424.8,136.1 429.8,140.2 432.3,146.9 431.5,153.5 426.5,156.0 424.0,150.2 421.5,145.2 419.0,141.0" fill="#7fcdbb" stroke="#7fcdbb" stroke-width="1"/>
<polygon points="469.7,156.0 476.4,152.7 484.7,151.0 488.0,155.2 486.3,160.2 482.2,163.5 479.7,158.5 473.0,159.3" fill="#edf8b1" stroke="#edf8b1" stroke-width="1"/>
</g>
<g clip-path="url(#cT4)">
<rect x="345" y="187" width="225" height="90" fill="#253494"/>
<polygon points="388.2,187.0 396.5,182.0 398.2,175.3 429.8,175.3 430.6,185.3 436.5,188.6 438.1,193.6 434.8,198.6 433.1,205.3 431.5,213.6 430.6,220.2 419.8,220.2 411.5,218.6 414.8,210.3 409.8,208.6 403.2,213.6 394.9,218.6 389.9,210.3 384.9,201.9 383.2,195.3" fill="#040a2e" stroke="#040a2e" stroke-width="1"/>
<polygon points="340.0,208.6 351.6,201.9 361.6,203.6 373.3,205.3 383.2,200.3 386.6,205.3 381.6,211.9 373.3,220.2 371.6,226.9 374.9,235.2 378.3,246.8 381.6,256.8 384.9,263.5 379.9,265.1 376.6,255.2 373.3,246.8 369.9,240.2 368.3,231.9 363.3,226.9 356.6,230.2 350.0,231.9 345.0,225.2 340.0,225.2" fill="#040a2e" stroke="#040a2e" stroke-width="1"/>
<polygon points="338.3,233.5 345.0,225.2 350.0,231.9 356.6,230.2 363.3,226.9 368.3,231.9 369.9,240.2 373.3,246.8 376.6,255.2 371.6,258.5 364.9,263.5 360.0,270.1 358.3,276.8 355.0,286.8 338.3,286.8" fill="#081d58" stroke="#081d58" stroke-width="1"/>
<polygon points="360.0,270.1 364.9,263.5 371.6,258.5 376.6,255.2 379.9,265.1 378.3,271.8 373.3,276.8 371.6,286.8 355.0,286.8 358.3,276.8" fill="#343436" stroke="#343436" stroke-width="1"/>
<polygon points="338.3,270.1 346.7,270.1 348.3,275.1 343.3,280.1 340.0,286.8 338.3,286.8" fill="#343436" stroke="#343436" stroke-width="1"/>
<polygon points="406.5,226.9 411.5,221.9 419.8,220.2 429.8,221.1 430.6,226.9 426.5,233.5 433.1,243.5 438.1,251.8 439.8,260.2 433.1,260.2 423.2,258.5 418.2,261.8 409.8,256.8 399.9,255.2 401.5,246.8 404.9,238.5 406.5,231.9" fill="#081d58" stroke="#081d58" stroke-width="1"/>
<polygon points="398.2,255.2 409.8,256.8 418.2,261.8 423.2,258.5 433.1,260.2 431.5,268.5 429.8,276.8 428.1,286.8 398.2,286.8 396.5,276.8 397.4,265.1" fill="#040a2e" stroke="#040a2e" stroke-width="1"/>
<polygon points="448.1,226.9 453.1,218.6 459.7,212.8 468.1,209.4 478.0,210.3 481.4,216.9 486.3,225.2 483.0,233.5 476.4,230.2 466.4,236.9 456.4,243.5 448.1,240.2 449.8,233.5" fill="#081d58" stroke="#081d58" stroke-width="1"/>
<polygon points="478.0,210.3 486.3,205.3 496.3,199.5 504.6,203.6 508.0,210.3 503.0,216.9 494.7,220.2 486.3,225.2 481.4,216.9" fill="#040a2e" stroke="#040a2e" stroke-width="1"/>
<polygon points="439.8,245.2 448.1,240.2 456.4,243.5 466.4,236.9 476.4,230.2 483.0,233.5 483.0,240.2 476.4,246.8 469.7,253.5 466.4,258.5 459.7,263.5 453.1,270.1 451.4,276.8 446.4,280.1 439.8,283.4 428.1,286.8 433.1,276.8 438.1,270.1 439.8,260.2 438.1,251.8" fill="#225ea8" stroke="#225ea8" stroke-width="1"/>
<polygon points="469.7,253.5 476.4,246.8 483.0,240.2 488.0,243.5 493.0,250.2 499.7,251.8 500.5,256.8 496.3,263.5 489.7,270.1 483.0,273.5 476.4,276.8 471.4,281.8 466.4,280.1 468.1,270.1 471.4,261.8" fill="#41b6c4" stroke="#41b6c4" stroke-width="1"/>
<polygon points="481.4,183.7 489.7,180.3 499.7,177.0 506.3,183.7 499.7,193.6 493.0,198.6 486.3,201.9 476.4,205.3 468.1,207.8 461.4,209.4 460.6,205.3 469.7,201.9 478.0,200.3 483.9,197.0 481.4,190.3" fill="#225ea8" stroke="#225ea8" stroke-width="1"/>
<polygon points="499.7,193.6 506.3,183.7 516.3,187.0 524.6,192.0 527.9,198.6 522.9,203.6 514.6,206.9 508.0,210.3 504.6,203.6 498.8,198.6" fill="#225ea8" stroke="#225ea8" stroke-width="1"/>
<polygon points="499.7,175.3 529.6,175.3 529.6,187.0 524.6,192.0 516.3,187.0 506.3,183.7" fill="#081d58" stroke="#081d58" stroke-width="1"/>
<polygon points="463.9,175.3 498.0,175.3 489.7,180.3 481.4,183.7 476.4,182.0 469.7,180.3" fill="#1d91c0" stroke="#1d91c0" stroke-width="1"/>
<polygon points="527.9,193.6 536.2,193.6 539.6,201.9 544.6,208.6 539.6,215.3 534.6,223.6 527.9,230.2 519.6,234.4 509.6,231.9 506.3,225.2 503.0,216.9 508.0,210.3 514.6,206.9 522.9,203.6 527.9,198.6" fill="#1d91c0" stroke="#1d91c0" stroke-width="1"/>
<polygon points="501.3,265.1 508.0,260.2 516.3,258.5 522.9,259.3 532.1,256.8 542.9,264.3 531.3,273.5 524.6,280.1 519.6,286.8 513.0,278.4 506.3,273.5" fill="#040a2e" stroke="#040a2e" stroke-width="1"/>
<polygon points="513.8,256.8 521.3,250.2 529.6,241.9 533.7,241.0 537.1,248.5 535.4,256.8 522.9,259.3" fill="#edf8b1" stroke="#edf8b1" stroke-width="1"/>
</g>
<g clip-path="url(#cT6)">
<rect x="170" y="177" width="175" height="100" fill="#343436"/>
<polygon points="351.3,182.0 357.9,180.3 366.2,178.7 374.6,175.3 401.2,175.3 401.2,182.0 392.8,187.0 386.2,193.6 382.9,198.6 376.2,201.1 369.6,201.9 361.3,201.9 351.3,201.9" fill="#253494" stroke="#253494" stroke-width="1"/>
<polygon points="351.3,201.9 361.3,201.9 369.6,201.9 376.2,201.1 382.9,198.6 386.2,193.6 392.8,187.0 401.2,182.0 401.2,218.6 392.8,215.3 387.9,210.3 379.5,216.9 372.9,223.6 374.6,231.9 377.9,243.5 381.2,251.8 384.5,263.5 379.5,265.1 377.9,253.5 374.6,246.8 369.6,240.2 367.9,231.9 364.6,227.7 357.9,230.2 351.3,231.9 345.5,226.9 341.3,218.6 343.0,210.3 347.9,205.3" fill="#040a2e" stroke="#040a2e" stroke-width="1"/>
<polygon points="296.4,243.5 301.4,238.5 303.9,233.5 308.0,235.2 313.0,236.0 317.2,233.5 321.3,235.2 325.5,240.2 329.7,242.7 334.6,241.0 339.6,236.0 344.6,231.0 345.5,226.9 351.3,231.9 357.9,230.2 364.6,227.7 367.9,231.9 369.6,240.2 374.6,246.8 377.9,251.8 371.2,256.8 362.9,260.2 360.4,266.8 361.3,276.8 359.6,286.8 336.3,286.8 343.0,280.1 348.8,272.6 343.0,270.1 336.3,267.6 329.7,266.0 326.3,267.6 325.5,260.2 319.7,257.7 311.4,260.2 303.0,261.8 298.1,258.5 296.4,251.8 298.9,246.8" fill="#081d58" stroke="#081d58" stroke-width="1"/>
<polygon points="276.4,260.2 286.4,263.5 294.7,266.8 289.7,271.8 283.1,276.8 281.4,280.1 286.4,286.8 256.5,286.8 261.5,278.4 268.1,273.5 273.1,266.8" fill="#081d58" stroke="#081d58" stroke-width="1"/>
<polygon points="379.5,216.9 387.9,210.3 392.8,215.3 401.2,218.6 401.2,286.8 376.2,286.8 377.9,276.8 384.5,263.5 381.2,251.8 377.9,243.5 374.6,231.9 372.9,223.6" fill="#253494" stroke="#253494" stroke-width="1"/>
</g>
<g clip-path="url(#cT5)">
<rect x="370" y="277" width="200" height="90" fill="#253494"/>
<polygon points="338.3,265.3 379.9,265.3 376.6,275.3 373.3,283.6 371.6,291.9 368.3,300.3 366.6,308.6 363.3,316.9 358.3,325.2 356.6,333.5 355.0,341.8 356.6,350.2 353.3,358.5 351.6,366.8 346.7,376.8 338.3,376.8" fill="#343436" stroke="#343436" stroke-width="1"/>
<polygon points="398.2,283.6 413.2,281.1 421.5,285.3 426.5,286.1 423.2,294.4 419.8,300.3 416.5,306.9 413.2,315.2 411.5,321.9 406.5,330.2 408.2,334.4 406.5,335.2 403.2,338.5 402.4,345.2 405.7,348.5 406.5,356.8 404.9,366.8 403.2,376.8 368.3,376.8 373.3,366.8 381.6,360.1 388.2,353.5 393.2,346.8 391.6,340.2 394.9,331.9 396.5,321.9 398.2,311.9 399.0,300.3 398.2,291.9" fill="#081d58" stroke="#081d58" stroke-width="1"/>
<polygon points="398.2,265.3 429.8,265.3 433.1,275.3 428.1,280.3 426.5,286.1 421.5,285.3 413.2,281.1 406.5,282.0 398.2,283.6 396.5,277.0" fill="#040a2e" stroke="#040a2e" stroke-width="1"/>
<polygon points="429.8,265.3 453.1,265.3 451.4,273.7 449.8,278.6 439.8,280.3 431.5,283.6 426.5,286.1 428.1,280.3 433.1,275.3" fill="#225ea8" stroke="#225ea8" stroke-width="1"/>
<polygon points="466.4,265.3 489.7,265.3 486.3,273.7 479.7,277.0 471.4,282.0 467.2,277.0 465.6,272.0" fill="#41b6c4" stroke="#41b6c4" stroke-width="1"/>
<polygon points="501.3,265.3 539.6,265.3 527.9,273.7 521.3,282.0 517.9,283.6 513.0,277.0 506.3,272.0" fill="#040a2e" stroke="#040a2e" stroke-width="1"/>
<polygon points="439.8,316.9 446.4,308.6 456.4,301.9 466.4,299.4 473.0,296.9 483.0,291.9 493.0,287.0 498.8,290.3 499.7,296.9 489.7,300.3 483.0,305.3 474.7,308.6 466.4,313.6 459.7,314.4 454.8,316.9 449.8,323.5 446.4,324.4" fill="#081d58" stroke="#081d58" stroke-width="1"/>
<polygon points="406.5,335.2 413.2,333.5 419.0,335.2 423.2,336.0 431.5,331.9 439.8,328.5 446.4,324.4 449.8,323.5 454.8,316.9 459.7,314.4 466.4,320.2 469.7,328.5 468.1,335.2 469.7,340.2 463.1,341.8 456.4,343.5 453.1,346.8 458.1,351.8 459.7,356.8 456.4,376.8 403.2,376.8 404.9,366.8 406.5,356.8 405.7,348.5 402.4,345.2 403.2,338.5" fill="#225ea8" stroke="#225ea8" stroke-width="1"/>
<polygon points="429.8,310.2 434.8,312.7 439.8,316.9 446.4,324.4 439.8,328.5 431.5,331.9 423.2,336.0 419.0,335.2 418.2,328.5 421.5,321.9 424.8,315.2" fill="#040a2e" stroke="#040a2e" stroke-width="1"/>
<polygon points="423.2,294.4 429.8,298.6 433.1,302.8 429.8,310.2 424.8,315.2 421.5,321.9 418.2,328.5 419.0,335.2 413.2,333.5 408.2,334.4 406.5,330.2 411.5,321.9 413.2,315.2 416.5,306.9 419.8,300.3" fill="#41b6c4" stroke="#41b6c4" stroke-width="1"/>
</g>
<g clip-path="url(#cT7)">
<rect x="170" y="277" width="200" height="90" fill="#343436"/>
<polygon points="259.8,280.3 266.5,277.0 273.1,273.7 279.8,270.3 286.4,265.3 294.7,265.3 289.7,273.7 283.1,278.6 284.8,283.6 288.1,285.3 283.1,288.6 276.4,290.3 273.9,297.8 269.8,296.9 264.8,296.1 262.3,292.8 264.8,288.6 263.1,283.6" fill="#081d58" stroke="#081d58" stroke-width="1"/>
<polygon points="289.7,288.6 296.4,287.0 303.0,288.6 311.4,290.3 319.7,288.6 329.7,291.9 338.0,285.3 341.3,283.6 346.3,275.3 348.8,272.0 343.0,270.3 336.3,265.3 361.3,265.3 360.4,275.3 356.3,283.6 354.6,288.6 361.3,300.3 357.9,306.9 352.9,310.2 349.6,313.6 341.3,313.6 333.0,315.2 323.0,317.7 316.3,313.6 309.7,306.9 303.0,301.9 296.4,298.6 291.4,295.3" fill="#081d58" stroke="#081d58" stroke-width="1"/>
<polygon points="379.5,265.3 401.2,265.3 401.2,376.8 347.9,376.8 351.3,366.8 354.6,360.1 356.3,350.2 357.9,341.8 356.3,333.5 357.9,325.2 362.9,316.9 366.2,308.6 369.6,300.3 372.1,291.9 373.7,283.6 376.2,275.3" fill="#253494" stroke="#253494" stroke-width="1"/>
<polygon points="168.3,328.5 178.3,327.7 186.6,327.7 194.9,328.5 199.1,330.2 203.3,336.8 206.6,343.5 209.9,350.2 203.3,353.5 194.9,358.5 186.6,363.5 178.3,366.8 168.3,370.1" fill="#253494" stroke="#253494" stroke-width="1"/>
<polygon points="168.3,370.1 178.3,366.8 186.6,363.5 194.9,358.5 203.3,353.5 209.9,350.2 219.9,346.8 228.2,343.5 234.9,340.2 234.0,346.8 234.9,353.5 233.2,360.1 230.7,365.1 231.5,370.1 229.9,376.8 168.3,376.8" fill="#081d58" stroke="#081d58" stroke-width="1"/>
<polygon points="259.8,361.8 273.1,361.8 272.3,368.4 269.8,376.8 248.2,376.8 253.2,370.1" fill="#253494" stroke="#253494" stroke-width="1"/>
<polygon points="236.5,310.2 243.2,307.7 248.2,305.3 253.2,304.4 256.5,301.9 259.8,295.3 262.3,292.8 264.8,296.1 269.8,296.9 273.9,297.8 274.8,301.9 269.8,305.3 264.8,308.6 259.8,311.1 256.5,307.7 253.2,310.2 249.8,315.2 248.2,319.4 243.2,317.7 236.5,316.9" fill="#1d91c0" stroke="#1d91c0" stroke-width="1"/>
</g>
<g clip-path="url(#cT8)">
<rect x="0" y="287" width="170" height="95" fill="#253494"/>
<polygon points="197.9,328.6 209.5,324.4 221.2,320.3 231.2,317.8 231.2,343.5 221.2,346.9 211.2,351.0 207.9,346.9 202.9,338.6" fill="#343436" stroke="#343436" stroke-width="1"/>
<polygon points="211.2,351.0 221.2,346.9 231.2,343.5 231.2,396.8 114.8,396.8 119.7,390.1 128.1,385.1 138.0,381.8 149.7,378.5 163.0,373.5 174.6,368.5 187.9,362.7 199.6,356.8" fill="#081d58" stroke="#081d58" stroke-width="1"/>
</g>
<g clip-path="url(#cT9)">
<rect x="60" y="382" width="175" height="80" fill="#343436"/><rect x="170" y="367" width="65" height="15" fill="#343436"/>
<polygon points="99.9,367.0 159.8,367.0 159.8,377.0 151.5,380.3 139.8,382.0 129.8,383.7 123.2,388.6 116.5,395.3 113.2,397.0 109.9,388.6 106.6,382.0" fill="#253494" stroke="#253494" stroke-width="1"/>
<polygon points="113.2,397.0 116.5,395.3 123.2,388.6 129.8,383.7 139.8,382.0 151.5,380.3 159.8,377.0 169.8,367.0 226.3,367.0 226.3,377.0 224.6,383.7 226.3,390.3 223.0,398.6 219.7,405.3 216.3,411.9 214.7,418.6 209.7,426.9 203.0,436.9 199.7,430.2 194.7,426.9 188.1,430.2 181.4,431.9 176.4,426.9 173.1,421.9 168.1,425.2 161.4,428.6 156.5,426.9 151.5,421.9 143.2,421.9 130.7,425.2 126.5,422.7 114.9,421.9 109.9,418.6 109.9,411.9 109.9,405.3" fill="#081d58" stroke="#081d58" stroke-width="1"/>
<polygon points="125.7,446.8 133.2,453.5 138.2,455.2 143.2,460.2 151.5,461.0 159.8,461.8 166.4,463.5 173.1,465.1 174.8,470.1 169.8,476.8 166.4,486.8 70.0,486.8 70.0,478.4 73.3,470.1 75.0,463.5 83.3,460.2 89.9,458.5 93.3,451.8 101.6,448.5 109.9,446.8 118.2,446.8" fill="#040a2e" stroke="#040a2e" stroke-width="1"/>
<polygon points="247.9,367.0 271.2,367.0 276.2,383.7 277.9,393.6 277.9,401.9 274.5,410.3 271.2,416.9 267.9,411.9 264.6,410.3 261.2,413.6 266.2,420.2 267.9,426.9 267.0,436.9 269.5,443.5 266.2,450.2 262.9,455.2 267.9,461.8 269.5,470.1 267.9,478.4 266.2,486.8 264.6,476.8 261.2,468.5 257.9,461.8 251.3,458.5 242.9,456.8 236.3,455.2 234.6,455.2 231.3,458.5 227.1,451.8 228.0,443.5 229.6,435.2 226.3,426.9 219.7,420.2 214.7,418.6 216.3,411.9 219.7,405.3 223.0,398.6 226.3,390.3 231.3,395.3 237.9,393.6 244.6,390.3 247.9,383.7" fill="#253494" stroke="#253494" stroke-width="1"/>
<polygon points="234.6,455.2 236.3,455.2 242.9,456.8 251.3,458.5 257.9,461.8 261.2,468.5 264.6,476.8 266.2,486.8 237.9,486.8 237.9,476.8 236.3,470.1 236.3,460.2" fill="#225ea8" stroke="#225ea8" stroke-width="1"/>
</g>
<g clip-path="url(#cT10)">
<rect x="235" y="367" width="225" height="95" fill="#225ea8"/>
<polygon points="228.3,355.3 353.1,355.3 353.1,363.7 349.7,370.3 346.4,375.3 336.4,377.0 326.5,376.1 319.8,372.0 314.8,368.6 314.0,373.6 308.2,377.0 303.2,380.3 296.5,385.3 288.2,387.8 286.5,393.6 284.9,400.2 278.2,400.2 274.9,395.3 273.2,385.3 271.6,375.3 271.6,365.3 273.2,362.0 266.6,361.2 258.3,362.0 254.9,367.0 251.6,372.0 246.6,373.6 245.0,378.6 247.5,383.6 243.3,388.6 236.7,395.3 228.3,396.9" fill="#343436" stroke="#343436" stroke-width="1"/>
<polygon points="254.9,367.0 258.3,362.0 266.6,361.2 273.2,362.0 271.6,365.3 271.6,375.3 273.2,385.3 274.9,395.3 278.2,400.2 278.2,405.2 274.9,410.2 271.6,415.2 269.9,420.2 269.1,414.4 264.9,410.2 260.8,413.5 264.9,418.5 266.6,426.8 265.8,436.8 268.3,443.5 266.6,450.1 263.3,451.8 259.9,456.8 264.9,463.4 264.9,466.8 235.0,466.8 236.7,456.8 233.3,456.8 228.3,458.4 228.3,396.9 236.7,395.3 243.3,388.6 247.5,383.6 245.0,378.6 246.6,373.6 251.6,372.0" fill="#253494" stroke="#253494" stroke-width="1"/>
<polygon points="228.3,453.5 236.7,451.8 236.7,456.8 233.3,460.1 230.0,466.8 228.3,466.8" fill="#343436" stroke="#343436" stroke-width="1"/>
<polygon points="278.2,400.2 284.9,400.2 293.2,398.6 301.5,398.6 309.8,400.2 313.2,405.2 318.1,406.9 316.5,410.2 311.5,415.2 309.8,420.2 306.5,425.2 301.5,430.2 298.2,425.2 291.5,423.5 283.2,421.9 276.6,420.2 271.6,419.4 271.6,415.2 274.9,410.2 278.2,405.2" fill="#253494" stroke="#253494" stroke-width="1"/>
<polygon points="271.6,419.4 276.6,420.2 283.2,421.9 291.5,423.5 298.2,425.2 301.5,430.2 299.8,435.2 296.5,438.5 293.2,443.5 292.4,450.1 289.9,453.5 286.5,458.4 283.2,463.4 279.9,466.8 278.2,466.8 274.9,460.1 269.9,450.1 269.1,438.5 269.9,431.8 269.9,420.2" fill="#040a2e" stroke="#040a2e" stroke-width="1"/>
<polygon points="301.5,430.2 306.5,426.8 311.5,428.5 315.6,433.5 313.2,440.2 309.8,446.8 306.5,451.8 299.8,452.6 294.9,453.5 292.4,450.1 293.2,443.5 296.5,438.5 299.8,435.2" fill="#081d58" stroke="#081d58" stroke-width="1"/>
<polygon points="296.5,458.4 299.8,452.6 306.5,451.8 314.8,451.0 323.1,451.8 328.1,455.1 329.8,460.1 326.5,466.8 296.5,466.8" fill="#343436" stroke="#343436" stroke-width="1"/>
<polygon points="326.5,466.8 329.8,460.1 333.1,458.4 339.8,466.8" fill="#253494" stroke="#253494" stroke-width="1"/>
<polygon points="286.5,393.6 288.2,387.8 296.5,385.3 303.2,380.3 308.2,377.0 314.0,373.6 314.8,368.6 319.8,372.0 326.5,376.1 333.1,378.6 333.1,385.3 331.4,390.3 338.1,393.9 336.8,396.6 329.8,402.2 324.0,405.6 318.1,406.9 313.2,405.2 309.8,400.2 301.5,398.6 293.2,398.6 284.9,400.2" fill="#040a2e" stroke="#040a2e" stroke-width="1"/>
<polygon points="333.1,378.6 336.4,377.0 346.4,375.3 353.1,373.6 359.7,377.0 363.0,381.9 358.1,385.3 353.1,388.6 346.4,390.3 341.4,394.4 336.4,392.8 331.4,390.3 333.1,385.3" fill="#081d58" stroke="#081d58" stroke-width="1"/>
<polygon points="341.4,394.4 346.4,390.3 353.1,388.6 358.1,385.3 363.0,381.9 364.7,388.6 369.7,395.3 376.3,400.2 373.0,405.2 368.0,411.9 363.0,418.5 358.9,420.2 354.7,416.0 349.7,413.5 344.8,408.6 341.4,405.2 343.9,400.2 343.1,396.9" fill="#040a2e" stroke="#040a2e" stroke-width="1"/>
<polygon points="324.0,405.2 329.8,401.9 336.4,396.1 340.6,396.1 343.9,400.2 341.4,405.2 344.8,408.6 349.7,413.5 354.7,416.0 358.9,420.2 356.4,428.5 352.2,431.0 346.4,428.5 339.8,426.8 333.1,424.4 329.8,421.0 329.0,415.2 328.1,410.2 326.5,407.7" fill="#1d91c0" stroke="#1d91c0" stroke-width="1"/>
<polygon points="353.1,355.3 383.0,355.3 379.7,362.0 373.0,365.3 369.7,370.3 363.0,373.6 359.7,377.0 353.1,373.6 346.4,375.3 349.7,370.3 353.1,363.7" fill="#253494" stroke="#253494" stroke-width="1"/>
<polygon points="383.0,355.3 406.3,355.3 404.6,365.3 403.8,373.6 404.6,381.9 406.3,390.3 407.9,400.2 406.3,405.2 401.3,406.9 394.6,406.9 391.3,398.6 388.0,393.6 383.0,392.8 378.0,396.1 373.9,400.2 369.7,395.3 364.7,388.6 363.0,381.9 359.7,377.0 363.0,373.6 369.7,370.3 373.0,365.3 379.7,362.0" fill="#081d58" stroke="#081d58" stroke-width="1"/>
</g>
<g clip-path="url(#cT11)">
<rect x="235" y="462" width="225" height="103" fill="#040a2e"/>
<polygon points="235.0,455.3 296.5,455.3 296.5,463.7 303.2,470.3 309.8,475.3 311.5,481.9 313.2,490.3 309.8,496.9 309.8,503.6 308.2,505.2 304.0,501.9 299.8,498.6 296.5,503.6 289.9,511.9 283.2,515.2 280.7,518.5 278.2,513.5 274.9,508.6 276.6,501.9 277.4,495.3 275.7,489.4 274.1,492.8 271.6,498.6 268.3,505.2 264.9,510.2 261.6,513.5 254.9,515.2 246.6,516.9 246.6,498.6 241.6,496.9 236.7,494.4 231.7,496.9 228.3,497.7 228.3,491.9 235.0,486.9 238.3,480.3 236.7,473.6 235.0,465.3" fill="#225ea8" stroke="#225ea8" stroke-width="1"/>
<polygon points="228.3,455.3 235.0,455.3 235.0,465.3 236.7,473.6 238.3,480.3 235.0,486.9 228.3,491.9" fill="#343436" stroke="#343436" stroke-width="1"/>
<polygon points="256.6,455.3 268.3,455.3 269.9,465.3 268.3,473.6 266.6,480.3 264.9,485.3 262.4,480.3 259.9,473.6 258.3,465.3" fill="#253494" stroke="#253494" stroke-width="1"/>
<polygon points="270.7,455.3 286.5,455.3 284.9,462.0 281.6,467.0 279.9,474.5 277.4,468.6 274.1,463.7" fill="#040a2e" stroke="#040a2e" stroke-width="1"/>
<polygon points="296.5,455.3 329.8,455.3 326.5,462.0 319.8,465.3 314.8,469.5 313.2,473.6 309.8,475.3 303.2,470.3 296.5,463.7" fill="#343436" stroke="#343436" stroke-width="1"/>
<polygon points="314.8,469.5 319.8,465.3 326.5,462.0 329.8,457.0 333.1,463.7 343.1,467.0 356.4,468.6 373.0,467.8 379.7,472.0 379.7,478.6 379.7,483.6 366.4,485.3 361.4,490.3 356.4,494.4 349.7,491.9 343.1,492.8 338.1,488.6 333.1,486.9 329.8,486.9 324.8,487.8 321.5,490.3 318.1,486.9 316.5,481.9 316.5,475.3" fill="#253494" stroke="#253494" stroke-width="1"/>
<polygon points="329.8,455.3 379.7,455.3 379.7,465.3 373.0,467.8 356.4,468.6 343.1,467.0 333.1,463.7" fill="#225ea8" stroke="#225ea8" stroke-width="1"/>
<polygon points="329.8,486.9 333.1,486.9 338.1,488.6 343.1,492.8 349.7,491.9 356.4,494.4 361.4,490.3 366.4,485.3 376.3,483.6 379.7,486.1 376.3,490.3 379.7,495.3 381.3,501.9 378.0,505.2 369.7,506.9 361.4,508.6 359.7,513.5 354.7,518.5 348.1,522.7 344.8,518.5 339.8,515.2 334.8,511.9 333.1,506.9 332.3,503.6 333.1,498.6 331.4,491.9" fill="#343436" stroke="#343436" stroke-width="1"/>
<polygon points="308.2,511.9 316.5,511.0 322.3,511.9 324.8,518.5 319.8,521.0 314.8,523.5 311.5,524.4 308.2,515.2" fill="#343436" stroke="#343436" stroke-width="1"/>
<polygon points="269.1,523.5 273.2,521.0 278.2,522.7 282.4,524.4 280.7,518.5 283.2,515.2 289.9,511.9 296.5,503.6 299.8,498.6 304.0,501.9 308.2,505.2 309.0,510.2 308.2,515.2 311.5,523.5 312.3,531.8 314.8,538.5 324.8,542.6 326.5,556.8 318.1,563.4 299.8,566.8 284.9,563.4 274.9,556.8 269.9,546.8 268.3,540.2 266.6,533.5 264.9,526.8" fill="#081d58" stroke="#081d58" stroke-width="1"/>
<polygon points="321.5,490.3 324.8,487.8 329.8,486.9 331.4,491.9 333.1,498.6 332.3,503.6 328.1,506.9 323.1,505.2 322.3,498.6" fill="#225ea8" stroke="#225ea8" stroke-width="1"/>
<polygon points="309.8,475.3 313.2,473.6 316.5,475.3 316.5,481.9 314.8,486.9 311.5,485.3 309.8,480.3" fill="#040a2e" stroke="#040a2e" stroke-width="1"/>
<polygon points="314.8,484.4 318.1,486.9 321.5,491.9 322.3,498.6 321.5,505.2 323.1,510.2 316.5,511.0 309.8,510.2 309.0,505.2 310.7,500.2 309.8,495.3 312.3,490.3" fill="#7fcdbb" stroke="#7fcdbb" stroke-width="1"/>
<polygon points="275.8,489.0 277.6,493.6 277.1,499.1 275.3,504.6 273.5,509.3 277.1,511.1 279.9,514.8 280.8,519.4 282.2,523.1 280.8,524.5 277.6,522.6 273.5,524.0 268.8,524.5 264.2,522.2 259.6,520.8 255.0,520.3 251.3,518.9 251.8,517.1 255.9,515.7 260.6,513.9 263.3,511.1 266.1,506.5 269.8,501.0 272.5,495.4 274.4,490.8" fill="#edf8b1" stroke="#edf8b1" stroke-width="1"/>
</g>
<g clip-path="url(#cT12)">
<rect x="40" y="462" width="195" height="103" fill="#343436"/>
<polygon points="66.6,483.6 83.2,484.4 84.9,490.3 89.9,491.9 98.2,490.3 106.5,489.4 114.8,488.6 123.2,491.1 131.5,494.4 136.5,496.9 143.1,493.6 149.8,491.1 156.4,489.4 161.4,490.3 166.4,486.9 168.1,480.3 171.4,475.3 174.7,470.3 171.4,465.3 166.4,467.0 159.7,465.3 154.8,462.0 148.1,461.2 143.1,460.3 139.8,455.3 66.6,455.3" fill="#040a2e" stroke="#040a2e" stroke-width="1"/>
<polygon points="64.9,484.4 75.8,483.6 83.2,484.4 84.9,490.3 89.9,491.9 98.2,490.3 106.5,489.4 114.8,488.6 123.2,491.1 131.5,494.4 136.5,496.9 143.1,493.6 149.8,491.1 156.4,489.4 161.4,490.3 161.4,494.4 173.0,493.6 186.3,491.9 199.7,490.3 199.7,511.9 64.9,513.5" fill="#081d58" stroke="#081d58" stroke-width="1"/>
<polygon points="199.7,490.3 204.6,489.4 209.6,488.6 213.0,492.8 222.9,492.8 232.9,492.8 234.6,488.6 237.1,481.9 237.9,473.6 235.4,465.3 234.6,455.3 271.2,455.3 271.2,500.2 262.8,506.9 257.9,513.5 251.2,516.9 239.6,506.9 199.7,506.9" fill="#225ea8" stroke="#225ea8" stroke-width="1"/>
</g>
</g>
<path d="M413.2,51.5 L419.8,46.9 L428.1,39.4 L429.0,34.4 L434.8,32.8 L441.4,27.8 L449.8,21.9 L459.7,18.6 L473.0,17.0 L489.7,15.3 L506.3,13.6 L511.3,14.5 L517.1,18.6 L517.6,17.0 L524.6,13.1 L532.2,10.8 L541.4,9.3 L547.6,12.4 L555.3,10.1 L563.0,13.1 L567.6,20.0 L573.7,20.8 L579.9,23.9 L584.5,29.3 L586.8,36.9 L585.2,46.2 L586.0,50.8 L590.6,54.6 L593.7,60.0 L601.4,60.8 L607.5,57.7 L609.0,61.5 L615.2,65.4 L621.3,70.7 L627.5,72.3 L633.6,75.3 L641.3,76.9 L649.8,76.1 L650.4,77.0 L646.3,82.8 L639.6,87.0 L633.0,91.9 L626.3,95.3 L619.7,98.6 L613.0,101.9 L606.3,105.3 L601.4,107.7 L596.4,111.1 L589.7,111.1 L584.7,112.7 L579.7,116.1 L574.8,115.2 L566.4,114.4 L559.8,114.4 L553.1,113.6 L546.5,111.9 L539.8,111.1 L533.2,109.4 L526.5,109.4 L519.9,111.9 L513.2,114.4 L508.2,118.6 L506.6,125.2 L511.6,128.5 L513.2,133.5 L509.9,138.5 L514.9,141.0 L523.2,143.5 L521.5,148.5 L514.9,151.8 L513.2,156.8 L518.2,161.8 L519.0,166.8 L514.9,171.8 L513.0,176.8 L517.9,183.5 L524.6,186.8 L527.9,193.4 L527.9,193.6 L536.2,195.3 L539.6,201.9 L544.6,208.6 L551.2,206.9 L559.5,210.3 L562.8,216.9 L556.2,223.6 L546.2,226.9 L536.2,231.9 L531.3,238.5 L534.6,246.8 L532.9,256.8 L537.9,264.3 L531.3,270.1 L524.6,276.8 L519.6,283.4 L527.9,273.7 L521.3,282.0 L516.3,287.0 L511.3,291.9 L508.0,296.1 L510.5,301.9 L504.6,306.9 L496.3,311.1 L491.3,315.2 L488.8,323.5 L484.7,331.9 L481.4,338.5 L476.4,346.8 L471.4,351.8 L463.1,356.0 L456.4,360.1 L452.3,365.1 L449.8,371.8 L446.2,375.3 L441.2,381.9 L437.9,388.6 L436.2,393.6 L429.6,396.9 L421.3,398.6 L412.9,400.2 L406.3,401.9 L401.3,404.4 L394.6,403.6 L391.3,398.6 L388.0,393.6 L383.0,392.8 L378.0,396.1 L373.0,401.9 L368.0,408.6 L363.0,415.2 L358.1,421.9 L353.9,426.8 L352.2,431.8 L351.4,440.2 L356.4,445.1 L366.4,449.3 L373.0,451.8 L374.7,458.4 L374.7,457.0 L374.7,465.3 L371.4,472.0 L373.0,478.6 L376.3,483.6 L379.7,486.1 L386.3,485.6 L392.1,486.1 L393.8,491.9 L394.6,498.6 L399.6,505.2 L403.0,513.5 L404.6,520.2 L408.8,525.2 L406.3,530.2 L404.6,535.2 L409.6,536.8 L406.3,540.2 L401.3,541.0 L398.0,543.5 L392.1,544.3 L390.5,539.3 L386.3,538.5 L379.7,539.3 L374.7,541.8 L369.7,545.1 L363.0,546.8 L358.1,545.1 L354.7,541.8 L346.4,542.6 L338.1,543.5 L334.8,544.3 L333.1,542.6 L329.8,544.3 L328.1,541.8 L324.8,542.6 L324.8,555.1 L318.1,555.1 L309.8,556.0 L304.8,558.4 L301.5,560.9 L299.8,562.6 L293.2,561.8 L284.9,558.4 L278.2,553.5 L274.9,546.8 L273.2,540.2 L269.9,533.5 L268.3,526.8 L269.1,523.5 L263.3,522.7 L258.3,520.2 L251.6,519.4 L253.7,511.9 L252.9,505.2 L247.9,500.2 L242.9,496.1 L237.9,493.6 L232.9,494.4 L231.3,496.1 L222.9,497.7 L214.6,499.4 L206.3,500.2 L199.7,501.9 L189.7,502.7 L181.4,503.6 L180.5,506.9 L178.0,506.9 L176.4,504.4 L171.4,502.7 L164.7,501.1 L156.4,499.4 L148.1,498.6 L141.4,500.2 L136.5,504.4 L133.1,505.2 L126.5,504.4 L118.2,503.6 L109.8,502.7 L103.2,503.6 L96.5,505.2 L95.7,508.6 L93.2,508.6 L91.6,505.2 L86.6,504.4 L81.6,506.1 L75.8,511.0 L72.4,510.2 L73.3,505.2 L69.1,503.6 L69.9,493.6 L70.8,484.4 L75.8,483.6 L74.9,478.6 L76.6,472.0 L77.4,463.7 L81.6,461.2 L89.9,460.2 L93.3,453.5 L101.6,450.2 L109.9,448.5 L118.2,447.7 L125.7,446.8 L126.5,440.2 L128.2,431.9 L130.7,425.2 L126.5,422.7 L114.9,421.9 L112.4,418.6 L113.2,411.9 L114.0,405.3 L113.2,397.0 L113.1,390.1 L112.3,383.5 L106.4,380.1 L99.8,376.0 L91.5,372.6 L83.2,368.5 L76.5,363.5 L69.8,356.8 L64.9,350.2 L60.7,341.9 L56.5,333.6 L49.9,325.3 L44.1,316.9 L58.2,321.1 L74.8,326.9 L91.5,332.7 L101.4,335.6 L116.4,333.6 L129.7,331.9 L141.4,331.1 L149.7,332.2 L158.0,335.2 L163.0,331.9 L171.3,328.6 L179.6,327.4 L187.9,327.7 L197.9,328.6 L209.5,324.4 L221.2,320.3 L230.0,317.8 L239.0,316.9 L238.2,310.2 L236.5,305.3 L239.8,296.9 L237.4,288.6 L239.0,280.3 L244.8,275.1 L248.2,270.1 L251.5,265.1 L254.8,260.2 L259.8,257.7 L264.8,256.8 L269.8,259.3 L276.4,258.5 L283.1,256.8 L288.1,255.2 L289.7,252.7 L284.8,251.8 L283.1,248.5 L286.4,246.0 L293.1,243.5 L298.1,241.9 L301.4,238.5 L303.9,234.4 L308.0,236.0 L313.0,236.9 L317.2,234.4 L321.3,236.0 L325.5,241.0 L329.7,243.5 L334.6,241.9 L339.6,236.9 L344.6,231.9 L345.5,226.9 L343.8,218.6 L344.6,210.3 L349.6,205.3 L352.9,201.9 L352.1,195.3 L354.6,188.6 L352.9,182.0 L351.6,185.1 L356.6,180.1 L366.6,177.6 L376.6,175.1 L380.7,170.2 L376.6,163.5 L373.3,156.8 L367.4,150.2 L364.9,142.7 L369.1,139.4 L376.6,141.9 L384.9,144.4 L394.9,143.5 L403.2,141.9 L408.2,136.9 L411.5,130.2 L408.2,123.6 L405.7,118.6 L409.8,111.9 L414.8,107.0 L419.8,100.3 L424.8,93.7 L426.5,87.0 L427.3,87.6 L428.1,78.5 L424.8,71.8 L426.5,66.8 L421.5,60.2 L416.5,55.2Z" fill="none" stroke="#5a5f78" stroke-width="0.5" opacity=".5"/>
<polyline points="232.4,496.1 234.7,494.2 238.4,493.6 242.1,494.7 245.3,497.0 247.2,499.8 247.6,501.7" fill="none" stroke="#f4f4f2" stroke-width="2" stroke-linecap="round" stroke-linejoin="round"/>
</svg>
</div>
<!-- map controls -->
<div class="abs" style="left:662px;top:70px;width:22px;height:65px;background:#fff;border-radius:3px;box-shadow:0 0 0 1.5px rgba(0,0,0,.1);z-index:3">
  <div class="abs" style="left:0;top:21px;width:22px;height:1px;background:#e3e3e3"></div>
  <div class="abs" style="left:0;top:43px;width:22px;height:1px;background:#e3e3e3"></div>
  <svg class="abs" style="left:0;top:0" width="22" height="65" viewBox="0 0 22 65">
    <path d="M7 11.5h8.4M11.2 7.3v8.4" stroke="#222" stroke-width="2" fill="none"/>
    <path d="M7 32.6h8.4" stroke="#222" stroke-width="2" fill="none"/>
    <path d="M11 47.5l3 7h-6z" fill="#222"/>
    <path d="M11 62l3-7h-6z" fill="#c4c4c4"/>
  </svg>
</div>
<!-- heigit logo -->
<div class="abs" style="left:622px;top:534px;width:63px;height:45px;background:rgba(255,255,255,.72);border-radius:4px;z-index:3">
  <svg class="abs" style="left:0;top:0" width="63" height="45" viewBox="0 0 63 45">
    <path d="M20.5 10.2l5.4-6.9 3.3 8.2zM29.2 11.5l2.6-5.6 3.9 1.8" stroke="#d22" stroke-width=".6" fill="none"/>
    <circle cx="25.9" cy="3.4" r="1" fill="#d22"/><circle cx="29.2" cy="11.4" r="1" fill="#d22"/><circle cx="35.8" cy="7.8" r="1" fill="#d22"/>
    <text x="5.6" y="23.3" font-family="Liberation Sans, sans-serif" font-size="16" fill="#1a1a1a" textLength="26" lengthAdjust="spacingAndGlyphs">Hei</text>
    <text x="32.3" y="23.3" font-family="Liberation Sans, sans-serif" font-size="16" fill="#111" stroke="#111" stroke-width=".35" textLength="25" lengthAdjust="spacingAndGlyphs">GIT</text>
    <rect x="5" y="26.1" width="53.5" height=".9" fill="#888"/>
    <text x="5.5" y="32.2" font-family="Liberation Sans, sans-serif" font-size="3.9" fill="#777" textLength="51" lengthAdjust="spacingAndGlyphs">HEIDELBERG INSTITUTE</text>
    <text x="5.5" y="37.1" font-family="Liberation Sans, sans-serif" font-size="3.9" fill="#777" textLength="51" lengthAdjust="spacingAndGlyphs">FOR GEOINFORMATION</text>
    <text x="5.5" y="42" font-family="Liberation Sans, sans-serif" font-size="3.9" fill="#777" textLength="30" lengthAdjust="spacingAndGlyphs">TECHNOLOGY</text>
  </svg>
</div>
<!-- attribution button -->
<div class="abs" style="left:666.5px;top:601.5px;width:16px;height:16px;border-radius:8px;background:rgba(255,255,255,.85);z-index:3">
  <svg class="abs" style="left:2.5px;top:2.5px" width="11" height="11" viewBox="0 0 11 11"><circle cx="5.5" cy="5.5" r="5.2" fill="#000"/><rect x="4.7" y="4.6" width="1.7" height="3.9" fill="#fff"/><circle cx="5.5" cy="3" r="1" fill="#fff"/></svg>
</div>
<!-- legend -->
<div id="legend">
  <div class="abs" style="left:8px;top:10px;font-size:7.2px;font-weight:bold;letter-spacing:.5px;color:#5b6f93;line-height:9px">LEGEND</div>
  <svg class="abs" style="left:123px;top:11px" width="9" height="6" viewBox="0 0 9 6"><path d="M1 5l3.5-3.7L8 5" stroke="#9aa8bd" stroke-width="1" fill="none"/></svg>
  <div class="abs" style="left:8px;top:23px;width:126px;height:1px;background:#e6ebf2"></div>
  <div class="abs" style="left:8px;top:30px;font-size:8.6px;font-weight:bold;color:#1f2937;line-height:11px;white-space:nowrap;-webkit-text-stroke:.0px">Population Reached (%)</div>
  <div class="abs" style="left:119px;top:31px;font-size:6.3px;color:#64789b;line-height:9px">85%</div>
  <div class="abs" style="left:8px;top:44px;width:126px;height:1px;background:#e6ebf2"></div>
  <div class="abs" style="left:11px;top:56px;width:120px;height:3px;border-radius:2px;background:#e4e9f1"></div>
  <div class="abs" style="left:108px;top:52px;width:11px;height:11px;border-radius:6px;background:#0d9480"></div>
  <div class="sw" style="left:8px;top:68px;background:#ffffd9"></div><div class="t" style="left:26px;top:68px">90 - 100%</div>
  <div class="sw" style="left:77px;top:68px;background:#edf8b1"></div><div class="t" style="left:94px;top:68px">80 - 90%</div>
  <div class="sw" style="left:8px;top:83px;background:#c7e9b4"></div><div class="t" style="left:26px;top:83px">70 - 80%</div>
  <div class="sw" style="left:77px;top:83px;background:#7fcdbb"></div><div class="t" style="left:94px;top:83px">60 - 70%</div>
  <div class="sw" style="left:8px;top:97px;background:#41b6c4"></div><div class="t" style="left:26px;top:97px">50 - 60%</div>
  <div class="sw" style="left:77px;top:97px;background:#1d91c0"></div><div class="t" style="left:94px;top:97px">40 - 50%</div>
  <div class="sw" style="left:8px;top:112px;background:#225ea8"></div><div class="t" style="left:26px;top:112px">30 - 40%</div>
  <div class="sw" style="left:77px;top:112px;background:#253494"></div><div class="t" style="left:94px;top:112px">20 - 30%</div>
  <div class="sw" style="left:8px;top:126px;background:#081d58"></div><div class="t" style="left:26px;top:126px">10 - 20%</div>
  <div class="sw" style="left:77px;top:126px;background:#030a2c"></div><div class="t" style="left:94px;top:126px">0 - 10%</div>
</div>
<!-- header -->
<div id="hdr">
  <div class="ibtn" style="left:10px;background:#e8f8f4">
    <svg class="abs" style="left:7px;top:6px" width="14" height="15" viewBox="0 0 14 15"><path d="M1.5 6.2L7 1.5l5.5 4.7v7.3h-11z" stroke="#0f766e" stroke-width="1.3" fill="none" stroke-linejoin="round"/><path d="M5.2 13.5V8.3h3.6v5.2" stroke="#0f766e" stroke-width="1.3" fill="none" stroke-linejoin="round"/></svg>
  </div>
  <div class="lbl" style="left:43px">Country</div>
  <div class="sel" style="left:43px;width:195px">Pakistan<svg width="8" height="8" viewBox="0 0 8 8" style="right:8px;top:9px"><path d="M.3 1h7.4L4 7.6z" fill="#475569"/></svg></div>
  <div class="lbl" style="left:244px;top:9.3px">Service</div>
  <div class="sel" style="left:244px;width:195px;padding-left:12px;top:23px;height:28px;line-height:27px">Education<svg width="8" height="8" viewBox="0 0 8 8" style="right:3px;top:9px"><path d="M1 2.3l3 3 3-3" stroke="#1e293b" stroke-width="1.5" fill="none"/></svg></div>
  <div class="lbl" style="left:445px;top:9.3px">Scale</div>
  <div class="sel" style="left:445px;width:195px;padding-left:12px;top:23px;height:28px;line-height:27px">Admin 2<svg width="8" height="8" viewBox="0 0 8 8" style="right:3px;top:9px"><path d="M1 2.3l3 3 3-3" stroke="#1e293b" stroke-width="1.5" fill="none"/></svg></div>
  <div class="ibtn" style="left:651.5px;background:#f1f5f9">
    <svg class="abs" style="left:7px;top:6.5px" width="14" height="14" viewBox="0 0 14 14"><circle cx="7" cy="7" r="5.8" stroke="#334155" stroke-width="1.1" fill="none"/><rect x="6.4" y="6.2" width="1.2" height="4" fill="#334155"/><circle cx="7" cy="4.3" r=".8" fill="#334155"/></svg>
  </div>
</div>
</div>
<!-- right panel -->
<div id="right">
<div class="abs" id="rp" style="left:0;top:0.7px;width:691px;height:620px">
  <div class="tab" style="left:24px;width:66px">Access Gap</div>
  <div class="tab" style="left:97px;width:52px">Barchart</div>
  <div class="tab" style="left:157px;width:52px">Ranking</div>
  <div class="tab" style="left:217px;width:38px">Table</div>
  <div class="tab" style="left:261px;width:87px;background:#effbf8;color:#0f766e;font-weight:bold">Demographics</div>
  <div class="hr" style="left:22px;top:51.3px;width:648px"></div>
  <div class="abs" style="left:23px;top:65px;font-size:13.2px;font-weight:bold;color:#0f172a;line-height:16px;white-space:nowrap">Access Gap (Absolute Numbers)</div>
  <div class="abs" style="left:23px;top:86px;font-size:9.6px;color:#64748b;line-height:12px;white-space:nowrap">Reached vs. Not Reached at</div>
  <div class="abs" style="left:152px;top:84px;width:62px;height:15px;border-radius:3px;background:#f3f6fa"></div>
  <div class="abs" style="left:156px;top:86px;font-size:9.2px;font-weight:bold;color:#0f766e;line-height:12px;white-space:nowrap">5 km</div>
  <svg class="abs" style="left:203px;top:88px" width="8" height="7" viewBox="0 0 8 7"><path d="M1.3 2l2.7 2.7L6.7 2" stroke="#0f766e" stroke-width="1.4" fill="none"/></svg>
  <div class="abs" style="left:279px;top:123px;width:9px;height:9px;border-radius:2px;background:#12b886"></div>
  <div class="abs" style="left:294px;top:122px;font-size:8px;color:#94a3b8;line-height:11px">Reached</div>
  <div class="abs" style="left:349px;top:123px;width:9px;height:9px;border-radius:2px;background:#f43f5e"></div>
  <div class="abs" style="left:364px;top:122px;font-size:8px;color:#94a3b8;line-height:11px;white-space:nowrap">Not Reached</div>
  <div class="hr" style="left:22px;top:144.3px;width:648px"></div>
  <div class="bar" style="left:124.5px;top:163px;width:159.5px;background:#27bd8d;text-align:right;padding-right:6px">38%</div>
  <div class="pill" style="left:312px;top:165px;width:69px;background:#94a3b8">Other Population</div>
  <div class="bar" style="left:408px;top:163px;width:228.5px;background:#f4516e;padding-left:6px;border-radius:0 2px 2px 0">62%</div>
  <div class="bar" style="left:207px;top:192px;width:77px;background:#27bd8d;text-align:right;padding-right:6px">37%</div>
  <div class="pill" style="left:322px;top:194px;width:49px;background:#6366f1">School Age</div>
  <div class="bar" style="left:408px;top:192px;width:129px;background:#f4516e;padding-left:6px;border-radius:0 2px 2px 0">63%</div>
  <div class="hr" style="left:22px;top:581px;width:648px;background:#eef1f6"></div>
  <div class="abs" style="left:0;top:591px;width:692px;text-align:center;font-size:8.6px;color:#94a3b8;line-height:12px;white-space:nowrap">Download this data here: <span style="color:#0f766e">HDX - Pakistan Accessibility Indicators</span></div>
</div>
</div>
<div id="footer">
  <span style="left:16px">CONTACT</span>
  <span style="left:70px">PRIVACY POLICY</span>
  <span style="left:156px">IMPRINT</span>
  <span style="right:16px;letter-spacing:.55px">2026 © HeiGIT gGmbH</span>
</div>
</body>
</html>
